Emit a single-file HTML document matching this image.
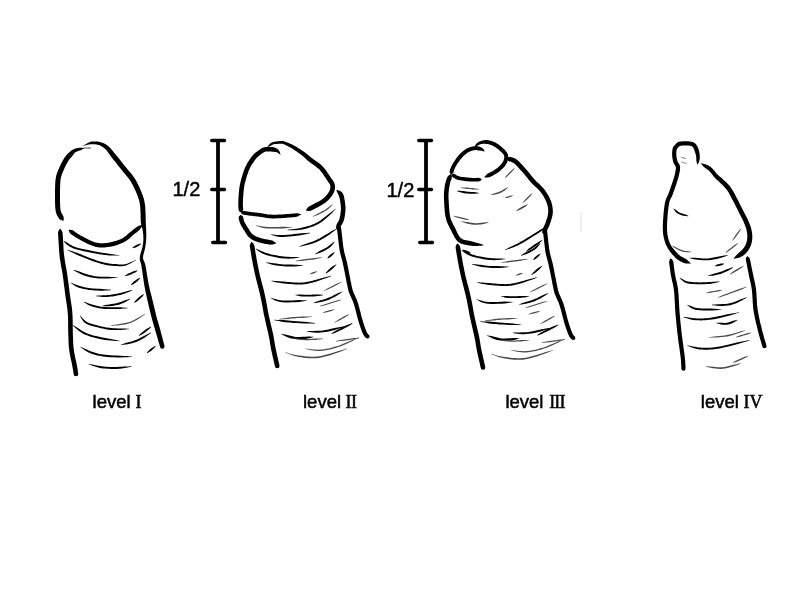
<!DOCTYPE html>
<html><head><meta charset="utf-8">
<style>
html,body{margin:0;padding:0;background:#fff;width:800px;height:600px;overflow:hidden}
svg{position:absolute;left:0;top:0;will-change:transform}
.t{font-family:"Liberation Sans",sans-serif;font-size:18.5px;fill:#000;stroke:#000;stroke-width:0.5}
.h{font-family:"Liberation Sans",sans-serif;font-size:20px;fill:#000;stroke:#000;stroke-width:0.45}
.r{font-family:"Liberation Serif",serif;font-size:18px;fill:#000;stroke:#000;stroke-width:0.5}
.b{fill:none;stroke:#000;stroke-width:3.8;stroke-linecap:butt}
.c{fill:none;stroke:#000;stroke-width:3.6;stroke-linecap:round}
</style></head><body>
<svg width="800" height="600" viewBox="0 0 800 600">

<path class="b" d="M218 140.5V242.5"/><path class="c" d="M211.8 140.5H224.4M211.8 189.5H224.4M212.8 242.5H225.4"/>
<path class="b" d="M426 140.5V242.5"/><path class="c" d="M418.8 140.5H431.4M418.8 189.5H431.4M419.8 242.5H432.4"/>
<rect x="580.3" y="212" width="1.5" height="20" fill="#ececec"/>
<text class="h" x="172.5" y="195.5">1/2</text>
<text class="h" x="386.5" y="196.5">1/2</text>
<text class="t" x="92.6" y="407.8">level</text><text class="r" x="135.6" y="407.8">I</text>
<text class="t" x="303" y="407.8">level</text><text class="r" x="345.6" y="407.8" letter-spacing="-0.5">II</text>
<text class="t" x="505.4" y="407.8">level</text><text class="r" x="549.2" y="407.8" letter-spacing="-0.9">III</text>
<text class="t" x="700.8" y="407.8">level</text><text class="r" x="743.5" y="407.8">IV</text>

<path fill="#999" d="M91.0 147.8 L90.3 147.1 L89.4 147.1 L88.2 147.2 L87.0 147.2 L85.7 147.2 L84.6 147.3 L83.6 147.3 L83.0 148.0 L83.0 148.4 L83.7 149.1 L84.6 149.1 L85.8 149.0 L87.0 149.0 L88.3 149.0 L89.4 148.9 L90.4 148.9 L91.0 148.2Z"/>
<path fill="#000" d="M84.0 148.0 L83.2 147.9 L82.1 147.8 L80.9 147.7 L79.5 147.7 L78.1 147.9 L76.7 148.2 L75.4 148.5 L74.3 148.9 L73.2 149.4 L72.3 149.9 L71.4 150.5 L70.7 151.1 L70.0 151.7 L69.4 152.3 L68.8 152.8 L68.2 153.3 L67.6 153.8 L67.1 154.4 L66.6 154.9 L66.1 155.5 L65.6 156.2 L65.0 156.9 L64.4 157.8 L63.9 158.7 L63.2 159.8 L62.6 160.9 L61.9 162.2 L61.2 163.6 L60.5 164.9 L59.9 166.3 L59.2 167.7 L58.7 169.0 L58.2 170.2 L57.7 171.3 L57.3 172.4 L56.9 173.6 L56.5 174.8 L56.1 176.3 L55.8 177.9 L55.5 179.7 L55.3 181.9 L55.2 184.4 L55.1 187.0 L55.0 189.8 L55.0 192.6 L55.0 195.3 L55.0 197.8 L55.0 200.0 L55.0 201.9 L55.1 203.7 L55.1 205.3 L55.2 206.9 L55.3 208.3 L55.5 209.8 L55.7 211.2 L56.1 212.7 L56.6 214.2 L57.3 215.7 L58.1 217.1 L58.9 218.4 L59.9 219.5 L61.1 220.1 L62.3 220.5 L63.2 220.8 L63.6 220.6 L63.7 219.6 L63.7 218.3 L63.6 217.0 L63.1 215.8 L62.4 214.6 L61.8 213.5 L61.3 212.4 L60.9 211.3 L60.6 210.2 L60.4 209.0 L60.3 207.8 L60.2 206.5 L60.1 205.1 L60.1 203.6 L60.0 201.9 L60.0 200.0 L60.0 197.8 L60.0 195.3 L60.0 192.7 L60.0 189.9 L60.1 187.2 L60.2 184.6 L60.3 182.3 L60.5 180.3 L60.7 178.7 L61.0 177.3 L61.3 176.2 L61.6 175.2 L61.9 174.2 L62.4 173.2 L62.8 172.1 L63.3 171.0 L63.8 169.7 L64.4 168.4 L65.0 167.1 L65.7 165.8 L66.3 164.5 L67.0 163.3 L67.6 162.3 L68.1 161.3 L68.6 160.5 L69.1 159.8 L69.5 159.3 L69.9 158.8 L70.3 158.3 L70.8 157.8 L71.3 157.3 L71.8 156.7 L72.3 156.0 L72.8 155.3 L73.3 154.7 L73.7 154.1 L74.1 153.5 L74.6 153.0 L75.1 152.5 L75.7 152.1 L76.6 151.7 L77.6 151.2 L78.8 150.8 L80.1 150.4 L81.3 149.9 L82.4 149.3 L83.4 148.8 L84.0 148.4Z"/>
<path fill="#000" d="M83.6 146.0 L84.1 145.8 L84.8 145.6 L85.6 145.3 L86.6 145.1 L87.5 144.8 L88.5 144.6 L89.4 144.4 L90.2 144.3 L91.0 144.3 L91.9 144.2 L92.7 144.2 L93.6 144.2 L94.4 144.2 L95.2 144.3 L96.0 144.4 L96.8 144.5 L97.5 144.7 L98.2 144.9 L98.9 145.1 L99.6 145.3 L100.2 145.6 L100.9 146.0 L101.5 146.3 L102.1 146.7 L102.7 147.0 L103.3 147.4 L103.8 147.8 L104.3 148.2 L104.8 148.6 L105.3 149.1 L105.9 149.7 L106.5 150.3 L107.0 150.9 L107.6 151.7 L108.1 152.4 L108.7 153.3 L109.4 154.2 L110.1 155.3 L110.9 156.4 L111.7 157.5 L112.7 158.8 L113.8 160.2 L115.0 161.6 L116.2 163.1 L117.4 164.7 L118.6 166.2 L119.9 167.8 L121.1 169.3 L122.3 170.7 L123.5 172.2 L124.7 173.7 L125.9 175.1 L127.1 176.5 L128.2 177.9 L129.3 179.3 L130.2 180.7 L131.1 182.1 L131.9 183.6 L132.8 185.1 L133.5 186.6 L134.2 188.1 L134.9 189.6 L135.6 191.1 L136.2 192.5 L136.8 193.8 L137.3 195.2 L137.8 196.4 L138.2 197.7 L138.6 198.9 L139.0 200.1 L139.3 201.3 L139.6 202.5 L139.8 203.7 L140.0 204.9 L140.1 206.0 L140.2 207.2 L140.3 208.4 L140.4 209.7 L140.4 210.9 L140.5 212.1 L140.6 213.4 L140.6 214.6 L140.6 215.9 L140.6 217.2 L140.7 218.4 L140.7 219.7 L140.7 221.0 L140.8 222.2 L141.0 223.4 L141.2 224.4 L141.5 225.5 L141.7 226.4 L142.0 227.3 L142.2 228.3 L142.5 229.2 L142.7 230.2 L142.8 231.2 L142.9 232.3 L143.1 233.4 L143.2 234.6 L143.3 235.7 L143.3 236.8 L143.4 237.9 L143.4 239.0 L143.4 240.0 L143.3 241.0 L143.2 241.9 L143.1 242.9 L143.0 243.9 L142.8 244.9 L142.6 245.9 L142.5 247.0 L142.2 248.2 L141.8 249.4 L141.4 250.8 L141.0 252.2 L140.5 253.6 L140.2 255.0 L139.9 256.4 L139.8 257.8 L139.8 259.0 L139.9 260.1 L140.1 261.1 L140.4 262.0 L140.7 262.8 L141.0 263.8 L141.3 264.9 L141.5 266.4 L141.8 268.3 L142.2 270.6 L142.5 273.1 L142.9 275.8 L143.3 278.6 L143.7 281.3 L144.1 283.9 L144.5 286.3 L144.9 288.5 L145.3 290.6 L145.7 292.6 L146.2 294.5 L146.6 296.4 L147.0 298.3 L147.4 300.2 L147.9 302.1 L148.3 304.0 L148.8 306.0 L149.2 308.0 L149.7 309.9 L150.2 311.9 L150.6 313.8 L151.1 315.7 L151.6 317.6 L152.1 319.5 L152.6 321.3 L153.1 323.0 L153.6 324.7 L154.1 326.4 L154.6 328.1 L155.1 329.9 L155.6 331.7 L156.2 333.6 L156.8 335.8 L157.5 338.0 L158.1 340.2 L158.7 342.3 L159.3 344.2 L159.8 345.8 L160.1 347.0 L164.5 345.8 L164.2 344.6 L163.7 343.0 L163.2 341.1 L162.7 338.9 L162.1 336.7 L161.5 334.5 L160.9 332.3 L160.4 330.3 L159.9 328.5 L159.4 326.7 L158.9 325.0 L158.4 323.3 L157.9 321.6 L157.4 319.9 L156.9 318.2 L156.4 316.4 L155.9 314.5 L155.5 312.6 L155.0 310.7 L154.6 308.8 L154.1 306.8 L153.6 304.9 L153.2 302.9 L152.7 300.9 L152.2 299.0 L151.8 297.1 L151.3 295.3 L150.8 293.4 L150.3 291.5 L149.8 289.6 L149.4 287.6 L148.9 285.5 L148.5 283.2 L148.0 280.6 L147.6 277.9 L147.1 275.2 L146.7 272.5 L146.3 269.9 L145.8 267.6 L145.5 265.6 L145.0 264.0 L144.6 262.6 L144.2 261.5 L143.8 260.7 L143.5 260.0 L143.3 259.4 L143.1 258.7 L143.0 257.8 L143.1 256.8 L143.2 255.6 L143.5 254.3 L143.9 253.0 L144.2 251.6 L144.6 250.2 L144.9 248.9 L145.1 247.6 L145.4 246.4 L145.5 245.3 L145.7 244.3 L145.8 243.2 L146.0 242.2 L146.1 241.2 L146.1 240.1 L146.2 239.0 L146.2 237.9 L146.3 236.8 L146.3 235.6 L146.3 234.4 L146.3 233.2 L146.2 232.1 L146.2 230.9 L146.1 229.8 L146.1 228.7 L146.1 227.7 L146.0 226.7 L145.9 225.7 L145.9 224.8 L145.8 223.8 L145.8 222.8 L145.8 221.8 L145.7 220.7 L145.7 219.6 L145.7 218.4 L145.6 217.1 L145.6 215.8 L145.6 214.5 L145.6 213.2 L145.5 211.9 L145.4 210.6 L145.4 209.4 L145.3 208.1 L145.2 206.8 L145.1 205.5 L144.9 204.2 L144.7 202.8 L144.4 201.5 L144.1 200.1 L143.8 198.8 L143.4 197.4 L142.9 196.1 L142.5 194.7 L142.0 193.4 L141.4 192.0 L140.8 190.5 L140.2 189.1 L139.5 187.5 L138.8 186.0 L138.0 184.4 L137.2 182.7 L136.3 181.1 L135.4 179.5 L134.4 177.9 L133.3 176.4 L132.2 174.8 L131.0 173.3 L129.8 171.9 L128.5 170.4 L127.3 169.0 L126.1 167.6 L124.9 166.1 L123.8 164.7 L122.5 163.1 L121.3 161.6 L120.1 160.0 L118.9 158.5 L117.7 157.1 L116.6 155.7 L115.7 154.5 L114.8 153.4 L113.9 152.4 L113.2 151.4 L112.4 150.5 L111.7 149.7 L111.0 148.8 L110.3 148.1 L109.5 147.3 L108.8 146.6 L108.1 146.0 L107.4 145.5 L106.7 145.0 L106.0 144.5 L105.3 144.1 L104.6 143.7 L103.9 143.3 L103.1 143.0 L102.3 142.7 L101.5 142.4 L100.7 142.2 L99.8 141.9 L99.0 141.8 L98.1 141.6 L97.2 141.5 L96.3 141.4 L95.4 141.4 L94.4 141.4 L93.5 141.4 L92.5 141.5 L91.6 141.6 L90.7 141.8 L89.8 142.1 L88.8 142.4 L87.9 142.9 L86.9 143.4 L86.1 143.9 L85.2 144.5 L84.5 145.0 L83.9 145.3 L83.4 145.6ZM160.05 346.40 a2.25 2.25 0 1 0 4.50 0 a2.25 2.25 0 1 0 -4.50 0Z"/>
<path fill="#000" d="M68.6 230.2 L69.1 231.3 L69.7 232.7 L70.8 234.0 L72.2 235.0 L73.8 236.1 L75.5 237.3 L77.3 238.3 L79.0 239.3 L80.7 240.3 L82.6 241.3 L84.5 242.3 L86.5 243.3 L88.5 244.2 L90.6 245.1 L92.5 245.8 L94.4 246.4 L96.2 246.9 L97.9 247.2 L99.6 247.4 L101.2 247.5 L102.8 247.5 L104.4 247.4 L106.1 247.3 L107.8 247.1 L109.7 246.8 L111.6 246.4 L113.7 245.9 L115.7 245.4 L117.7 244.7 L119.7 244.0 L121.6 243.3 L123.4 242.5 L125.1 241.6 L126.7 240.6 L128.1 239.5 L129.4 238.4 L130.7 237.3 L131.9 236.2 L133.1 235.1 L134.3 234.1 L135.6 233.1 L137.1 231.9 L138.5 230.8 L139.8 229.4 L140.9 228.0 L141.8 226.7 L142.6 225.5 L143.1 224.7 L142.9 224.3 L141.9 224.7 L140.6 225.2 L139.1 225.8 L137.5 226.6 L135.9 227.5 L134.5 228.7 L133.0 229.8 L131.7 230.9 L130.4 231.9 L129.1 233.0 L127.9 234.1 L126.7 235.2 L125.5 236.2 L124.2 237.1 L123.0 238.0 L121.6 238.7 L120.0 239.4 L118.3 240.1 L116.4 240.7 L114.5 241.3 L112.6 241.8 L110.7 242.3 L108.9 242.6 L107.2 242.9 L105.6 243.1 L104.1 243.3 L102.7 243.3 L101.3 243.3 L100.0 243.2 L98.6 243.0 L97.1 242.8 L95.6 242.4 L93.9 241.9 L92.1 241.2 L90.3 240.4 L88.3 239.5 L86.4 238.5 L84.5 237.6 L82.7 236.6 L81.0 235.7 L79.4 234.7 L77.8 233.7 L76.2 232.7 L74.6 231.6 L73.2 230.6 L71.7 230.0 L70.1 229.8 L68.9 229.8Z"/>
<path fill="#000" d="M59.8 228.8 L59.4 229.4 L58.9 230.2 L58.5 231.1 L58.1 232.1 L58.0 233.3 L58.1 234.6 L58.2 236.0 L58.3 237.7 L58.4 239.5 L58.5 241.6 L58.7 243.8 L58.8 246.2 L59.0 248.8 L59.1 251.3 L59.4 253.8 L59.6 256.3 L59.9 258.7 L60.3 261.1 L60.7 263.5 L61.1 265.9 L61.5 268.3 L62.0 270.6 L62.4 273.0 L62.7 275.3 L63.1 277.7 L63.4 280.1 L63.7 282.4 L64.0 284.8 L64.3 287.2 L64.6 289.6 L64.9 291.9 L65.2 294.3 L65.5 296.6 L65.9 298.9 L66.2 301.2 L66.6 303.4 L66.9 305.6 L67.2 307.9 L67.5 310.2 L67.7 312.7 L67.9 315.3 L68.0 318.1 L68.1 321.0 L68.1 324.0 L68.1 327.0 L68.2 329.8 L68.2 332.6 L68.3 335.1 L68.4 337.3 L68.5 339.4 L68.5 341.3 L68.6 343.1 L68.7 344.9 L68.8 346.6 L69.0 348.4 L69.2 350.3 L69.5 352.3 L69.9 354.3 L70.3 356.4 L70.7 358.4 L71.1 360.3 L71.6 362.2 L71.9 363.9 L72.2 365.4 L72.5 366.9 L72.7 368.3 L73.0 369.6 L73.2 370.8 L73.3 371.9 L73.5 372.9 L73.6 373.7 L73.7 374.4 L78.3 373.6 L78.2 373.0 L78.0 372.2 L77.9 371.2 L77.7 370.1 L77.5 368.8 L77.3 367.5 L77.0 366.1 L76.8 364.6 L76.4 362.9 L76.1 361.2 L75.6 359.3 L75.2 357.4 L74.8 355.4 L74.4 353.5 L74.1 351.5 L73.8 349.7 L73.6 347.9 L73.4 346.2 L73.3 344.6 L73.2 342.9 L73.1 341.1 L73.1 339.2 L73.0 337.2 L72.9 334.9 L72.8 332.5 L72.8 329.8 L72.7 326.9 L72.7 323.9 L72.7 320.9 L72.6 317.9 L72.5 315.1 L72.3 312.3 L72.1 309.8 L71.8 307.3 L71.5 305.0 L71.1 302.7 L70.8 300.4 L70.4 298.2 L70.1 296.0 L69.8 293.7 L69.5 291.4 L69.2 289.0 L68.9 286.6 L68.6 284.2 L68.3 281.9 L67.9 279.5 L67.6 277.1 L67.3 274.7 L66.9 272.3 L66.5 269.8 L66.1 267.4 L65.6 265.1 L65.2 262.7 L64.8 260.4 L64.5 258.0 L64.2 255.7 L63.9 253.4 L63.7 250.9 L63.5 248.4 L63.4 246.0 L63.3 243.6 L63.1 241.3 L63.0 239.2 L62.9 237.3 L62.8 235.7 L62.7 234.3 L62.6 233.0 L62.3 231.8 L61.8 230.8 L61.3 230.0 L60.7 229.3 L60.2 228.7ZM73.70 374.00 a2.30 2.30 0 1 0 4.60 0 a2.30 2.30 0 1 0 -4.60 0Z"/>
<path fill="#000" d="M63.6 241.2 L64.2 241.8 L65.0 242.7 L65.9 243.7 L67.0 244.7 L68.4 245.7 L69.9 246.7 L71.6 247.6 L73.4 248.4 L75.4 249.1 L77.7 249.7 L80.1 250.3 L82.6 250.9 L85.2 251.5 L87.7 252.0 L90.1 252.5 L92.3 252.9 L94.4 253.3 L96.4 253.7 L98.4 254.1 L100.3 254.4 L102.1 254.6 L103.9 254.9 L105.7 255.1 L107.4 255.3 L109.1 255.4 L110.9 255.5 L112.7 255.5 L114.3 255.6 L115.9 255.6 L117.3 255.6 L118.5 255.6 L119.4 255.6 L119.4 255.2 L118.5 255.1 L117.4 254.9 L116.0 254.7 L114.4 254.5 L112.8 254.3 L111.0 254.1 L109.3 253.8 L107.6 253.5 L105.9 253.3 L104.2 253.0 L102.4 252.8 L100.6 252.5 L98.7 252.2 L96.8 251.8 L94.8 251.5 L92.7 251.1 L90.5 250.6 L88.1 250.1 L85.6 249.6 L83.0 249.1 L80.5 248.5 L78.2 247.9 L76.0 247.3 L74.1 246.6 L72.4 245.9 L70.9 245.0 L69.4 244.1 L68.1 243.2 L66.9 242.4 L65.7 241.8 L64.7 241.2 L63.9 240.8Z"/>
<path fill="#000" d="M132.6 248.2 L133.4 248.0 L134.6 247.8 L135.9 247.4 L137.2 246.7 L138.5 246.1 L139.6 245.3 L140.5 244.5 L141.1 243.9 L140.9 243.6 L140.1 243.7 L138.9 244.0 L137.6 244.4 L136.3 245.0 L135.0 245.7 L133.9 246.5 L133.0 247.2 L132.4 247.8Z"/>
<path fill="#000" d="M67.4 250.2 L68.4 250.6 L69.6 251.3 L71.1 252.0 L72.7 252.8 L74.5 253.6 L76.3 254.4 L78.0 255.2 L79.6 255.9 L81.2 256.5 L82.8 257.2 L84.3 257.8 L85.9 258.5 L87.5 259.1 L89.0 259.7 L90.6 260.3 L92.2 260.9 L93.8 261.4 L95.4 262.0 L97.0 262.5 L98.6 263.0 L100.2 263.5 L101.8 263.9 L103.3 264.3 L104.8 264.7 L106.2 265.0 L107.5 265.2 L108.8 265.4 L110.0 265.6 L111.3 265.7 L112.5 265.8 L113.7 265.9 L114.9 265.9 L116.2 266.0 L117.4 266.1 L118.6 266.2 L119.9 266.3 L121.2 266.3 L122.5 266.2 L123.8 266.1 L125.2 265.8 L126.6 265.3 L128.2 264.6 L129.8 263.8 L131.3 262.9 L132.8 262.1 L134.1 261.3 L135.3 260.6 L136.1 260.2 L135.9 259.8 L135.0 260.2 L133.9 260.7 L132.5 261.4 L130.9 262.1 L129.3 262.7 L127.7 263.4 L126.2 263.9 L124.8 264.2 L123.6 264.4 L122.4 264.5 L121.2 264.5 L120.0 264.5 L118.8 264.4 L117.6 264.3 L116.3 264.1 L115.1 264.1 L113.8 264.0 L112.6 263.9 L111.4 263.8 L110.3 263.7 L109.1 263.5 L107.8 263.3 L106.6 263.1 L105.2 262.8 L103.8 262.5 L102.3 262.1 L100.8 261.7 L99.2 261.2 L97.6 260.7 L96.0 260.2 L94.4 259.6 L92.8 259.1 L91.3 258.5 L89.7 258.0 L88.2 257.3 L86.6 256.7 L85.1 256.1 L83.5 255.4 L81.9 254.8 L80.4 254.1 L78.7 253.5 L76.9 252.8 L75.0 252.2 L73.2 251.6 L71.5 251.0 L69.9 250.5 L68.6 250.1 L67.6 249.8Z"/>
<path fill="#000" d="M73.7 270.2 L74.6 270.7 L75.7 271.4 L77.1 272.2 L78.7 273.1 L80.5 273.9 L82.3 274.7 L84.0 275.4 L85.7 275.9 L87.3 276.4 L88.8 276.8 L90.3 277.2 L91.8 277.5 L93.3 277.8 L95.0 278.1 L96.8 278.3 L98.7 278.4 L100.9 278.6 L103.4 278.6 L106.2 278.6 L108.9 278.5 L111.6 278.3 L114.0 278.1 L116.0 277.8 L117.5 277.7 L117.5 277.3 L116.0 277.2 L114.0 277.1 L111.6 276.9 L108.9 276.8 L106.2 276.8 L103.5 276.7 L101.0 276.7 L98.8 276.6 L97.0 276.4 L95.3 276.2 L93.7 275.9 L92.2 275.6 L90.7 275.3 L89.3 274.9 L87.8 274.5 L86.3 274.1 L84.7 273.6 L83.0 272.9 L81.2 272.2 L79.4 271.6 L77.7 271.0 L76.1 270.5 L74.8 270.1 L73.8 269.8Z"/>
<path fill="#000" d="M125.1 276.2 L126.2 276.0 L127.8 275.6 L129.7 275.0 L131.6 274.2 L133.5 273.3 L135.3 272.4 L136.6 271.5 L137.6 270.8 L137.4 270.4 L136.3 270.6 L134.7 271.0 L132.8 271.6 L130.9 272.4 L129.0 273.3 L127.2 274.2 L125.9 275.1 L124.9 275.8Z"/>
<path fill="#000" d="M70.9 283.2 L71.5 283.6 L72.3 284.1 L73.3 284.8 L74.4 285.5 L75.6 286.2 L76.9 286.9 L78.3 287.4 L79.7 287.9 L81.1 288.3 L82.5 288.7 L84.0 289.0 L85.5 289.3 L87.1 289.6 L88.7 289.9 L90.5 290.1 L92.4 290.3 L94.6 290.5 L97.1 290.6 L99.8 290.7 L102.5 290.7 L105.1 290.6 L107.5 290.5 L109.5 290.3 L111.0 290.2 L111.0 289.8 L109.5 289.6 L107.5 289.4 L105.2 289.2 L102.5 289.0 L99.8 288.8 L97.2 288.7 L94.7 288.6 L92.6 288.5 L90.7 288.3 L89.0 288.0 L87.4 287.8 L85.8 287.5 L84.4 287.2 L83.0 286.8 L81.6 286.5 L80.3 286.1 L79.0 285.7 L77.6 285.2 L76.3 284.7 L75.0 284.2 L73.8 283.7 L72.7 283.4 L71.8 283.0 L71.1 282.8Z"/>
<path fill="#000" d="M131.1 285.2 L132.0 284.8 L133.3 284.2 L134.7 283.3 L136.1 282.2 L137.5 281.2 L138.6 280.0 L139.5 278.9 L140.1 278.2 L139.9 277.8 L139.0 278.2 L137.7 278.8 L136.3 279.7 L134.9 280.8 L133.5 281.8 L132.4 283.0 L131.5 284.1 L130.9 284.8Z"/>
<path fill="#000" d="M96.0 296.2 L96.9 296.3 L98.0 296.5 L99.4 296.6 L101.0 296.8 L102.6 296.9 L104.3 297.0 L106.0 297.0 L107.6 296.9 L109.1 296.8 L110.7 296.6 L112.2 296.4 L113.8 296.2 L115.4 295.9 L117.0 295.6 L118.6 295.3 L120.2 294.9 L121.9 294.5 L123.7 293.9 L125.5 293.3 L127.3 292.6 L128.9 291.9 L130.4 291.2 L131.6 290.6 L132.6 290.2 L132.4 289.8 L131.4 290.0 L130.1 290.3 L128.5 290.7 L126.8 291.2 L125.0 291.7 L123.1 292.2 L121.4 292.7 L119.8 293.1 L118.2 293.4 L116.7 293.8 L115.1 294.0 L113.5 294.3 L112.0 294.5 L110.4 294.7 L108.9 294.9 L107.4 295.1 L105.9 295.2 L104.3 295.3 L102.6 295.3 L101.0 295.4 L99.4 295.5 L98.1 295.6 L96.9 295.7 L96.0 295.8Z"/>
<path fill="#000" d="M83.7 302.2 L84.3 302.6 L85.1 303.0 L86.0 303.6 L87.1 304.3 L88.2 304.9 L89.5 305.5 L90.9 306.1 L92.2 306.5 L93.6 306.9 L94.9 307.3 L96.2 307.6 L97.7 308.0 L99.2 308.3 L101.0 308.5 L102.8 308.8 L104.9 308.9 L107.5 309.1 L110.4 309.1 L113.7 309.1 L117.0 309.1 L120.3 308.9 L123.2 308.6 L125.7 308.4 L127.5 308.2 L127.5 307.8 L125.7 307.7 L123.2 307.5 L120.3 307.3 L117.0 307.2 L113.7 307.2 L110.5 307.2 L107.5 307.2 L105.1 307.1 L103.0 306.9 L101.2 306.7 L99.6 306.4 L98.1 306.1 L96.7 305.8 L95.4 305.4 L94.1 305.1 L92.8 304.7 L91.5 304.3 L90.2 303.9 L88.9 303.4 L87.6 303.0 L86.5 302.6 L85.4 302.3 L84.5 302.0 L83.8 301.8Z"/>
<path fill="#000" d="M102.5 306.2 L103.7 306.2 L105.3 306.3 L107.2 306.3 L109.3 306.2 L111.5 306.0 L113.7 305.7 L115.8 305.3 L117.7 304.9 L119.6 304.4 L121.4 303.7 L123.3 303.0 L125.0 302.2 L126.6 301.3 L128.0 300.4 L129.2 299.7 L130.1 299.2 L129.9 298.8 L128.9 299.1 L127.6 299.5 L126.0 300.0 L124.3 300.6 L122.6 301.3 L120.8 302.0 L119.0 302.6 L117.3 303.1 L115.5 303.5 L113.4 303.8 L111.3 304.1 L109.1 304.4 L107.1 304.8 L105.2 305.1 L103.6 305.5 L102.5 305.8Z"/>
<path fill="#000" d="M134.1 303.1 L135.1 302.6 L136.5 301.7 L138.1 300.6 L139.6 299.2 L141.2 297.8 L142.5 296.4 L143.5 295.1 L144.1 294.1 L143.9 293.9 L142.9 294.4 L141.5 295.3 L139.9 296.4 L138.4 297.8 L136.8 299.2 L135.5 300.6 L134.5 301.9 L133.9 302.9Z"/>
<path fill="#000" d="M79.8 315.7 L80.2 316.3 L80.7 317.1 L81.2 318.1 L81.9 319.2 L82.6 320.3 L83.5 321.4 L84.4 322.4 L85.5 323.3 L86.6 323.9 L87.7 324.5 L88.9 325.0 L90.1 325.4 L91.4 325.8 L92.8 326.2 L94.2 326.5 L95.8 326.9 L97.4 327.3 L99.1 327.8 L100.9 328.2 L102.8 328.6 L104.8 329.0 L106.8 329.4 L108.8 329.7 L110.9 329.9 L113.2 330.1 L115.7 330.1 L118.3 330.1 L121.0 329.9 L123.5 329.7 L125.7 329.5 L127.6 329.3 L129.0 329.2 L129.0 328.8 L127.6 328.7 L125.7 328.6 L123.4 328.5 L120.9 328.5 L118.3 328.4 L115.7 328.3 L113.3 328.2 L111.1 328.1 L109.1 327.8 L107.1 327.5 L105.1 327.2 L103.2 326.8 L101.3 326.4 L99.6 325.9 L97.9 325.5 L96.2 325.1 L94.7 324.7 L93.3 324.3 L92.0 324.0 L90.7 323.6 L89.6 323.2 L88.5 322.8 L87.5 322.3 L86.5 321.7 L85.6 321.1 L84.7 320.3 L83.8 319.4 L82.9 318.5 L82.0 317.5 L81.3 316.7 L80.7 316.0 L80.2 315.5Z"/>
<path fill="#4a4a4a" d="M111.0 325.8 L112.5 325.7 L114.6 325.6 L117.0 325.4 L119.6 325.2 L122.4 324.8 L125.2 324.4 L127.8 323.8 L130.2 323.1 L132.4 322.2 L134.7 321.1 L136.9 319.9 L139.0 318.6 L140.9 317.2 L142.6 316.0 L144.0 314.9 L145.1 314.2 L144.9 313.8 L143.7 314.5 L142.2 315.3 L140.4 316.4 L138.4 317.6 L136.3 318.8 L134.1 320.0 L131.9 321.0 L129.8 321.9 L127.5 322.5 L125.0 323.1 L122.2 323.6 L119.5 324.0 L116.8 324.4 L114.5 324.8 L112.5 325.1 L111.0 325.4Z"/>
<path fill="#000" d="M72.4 325.2 L73.2 326.0 L74.4 327.0 L75.7 328.3 L77.3 329.6 L79.0 331.0 L80.9 332.3 L82.8 333.4 L84.6 334.4 L86.4 335.1 L88.1 335.8 L90.0 336.5 L91.8 337.0 L93.7 337.5 L95.7 338.0 L97.7 338.5 L99.8 338.9 L102.2 339.4 L104.9 339.9 L107.7 340.3 L110.6 340.6 L113.3 340.8 L115.8 341.0 L117.9 341.1 L119.5 341.2 L119.5 340.8 L118.0 340.5 L116.0 340.0 L113.5 339.5 L110.8 339.0 L108.0 338.5 L105.2 338.0 L102.5 337.5 L100.2 337.1 L98.1 336.6 L96.1 336.1 L94.2 335.7 L92.3 335.2 L90.5 334.6 L88.8 334.0 L87.1 333.4 L85.4 332.6 L83.7 331.7 L81.9 330.7 L80.1 329.5 L78.3 328.3 L76.6 327.2 L75.0 326.2 L73.6 325.4 L72.6 324.8Z"/>
<path fill="#000" d="M139.1 335.9 L140.3 335.3 L141.9 334.5 L143.7 333.4 L145.6 332.0 L147.4 330.6 L149.0 329.2 L150.3 327.9 L151.1 326.9 L150.9 326.6 L149.7 327.2 L148.1 328.0 L146.3 329.1 L144.4 330.5 L142.6 331.9 L141.0 333.3 L139.7 334.6 L138.9 335.6Z"/>
<path fill="#000" d="M121.0 344.9 L122.2 344.8 L123.8 344.7 L125.7 344.5 L127.7 344.2 L129.9 343.8 L132.2 343.3 L134.3 342.6 L136.4 341.9 L138.4 341.0 L140.5 339.9 L142.7 338.7 L144.9 337.4 L146.9 336.1 L148.6 334.8 L150.0 333.7 L151.1 332.9 L150.9 332.6 L149.7 333.1 L148.0 333.9 L146.1 334.8 L144.0 335.9 L141.8 337.0 L139.7 338.2 L137.6 339.3 L135.6 340.1 L133.7 340.8 L131.6 341.4 L129.5 342.0 L127.4 342.6 L125.4 343.1 L123.6 343.7 L122.1 344.2 L121.0 344.6Z"/>
<path fill="#000" d="M80.4 347.2 L81.3 347.8 L82.4 348.5 L83.7 349.5 L85.2 350.5 L86.9 351.5 L88.6 352.4 L90.4 353.2 L92.2 353.9 L93.9 354.4 L95.6 354.9 L97.3 355.4 L99.0 355.8 L100.9 356.1 L102.9 356.4 L105.0 356.7 L107.4 356.9 L110.2 357.2 L113.5 357.3 L117.0 357.4 L120.7 357.4 L124.2 357.3 L127.4 357.2 L130.0 357.1 L132.0 356.9 L132.0 356.6 L130.1 356.4 L127.4 356.1 L124.2 355.9 L120.7 355.7 L117.1 355.5 L113.6 355.4 L110.3 355.3 L107.6 355.1 L105.3 354.8 L103.1 354.5 L101.2 354.2 L99.4 353.9 L97.7 353.5 L96.1 353.1 L94.4 352.6 L92.8 352.1 L91.1 351.5 L89.4 350.7 L87.7 349.9 L85.9 349.1 L84.3 348.4 L82.8 347.7 L81.6 347.2 L80.6 346.8Z"/>
<path fill="#000" d="M147.1 353.2 L148.0 352.8 L149.2 352.1 L150.5 351.3 L151.9 350.2 L153.2 349.1 L154.2 348.0 L155.1 346.9 L155.6 346.2 L155.4 345.8 L154.5 346.2 L153.3 346.9 L152.0 347.7 L150.6 348.8 L149.3 349.9 L148.3 351.0 L147.4 352.1 L146.9 352.8Z"/>
<path fill="#000" d="M88.7 364.2 L89.5 364.5 L90.6 365.0 L91.8 365.5 L93.3 366.0 L94.8 366.6 L96.5 367.1 L98.2 367.6 L99.9 367.9 L101.6 368.2 L103.3 368.4 L105.2 368.6 L107.1 368.7 L109.1 368.8 L111.0 368.9 L113.0 369.0 L115.0 368.9 L117.2 368.9 L119.5 368.7 L121.9 368.4 L124.3 368.1 L126.5 367.7 L128.6 367.3 L130.3 366.9 L131.5 366.7 L131.5 366.3 L130.2 366.3 L128.4 366.4 L126.4 366.4 L124.1 366.5 L121.7 366.7 L119.3 366.8 L117.1 367.0 L115.0 367.1 L113.0 367.1 L111.1 367.0 L109.1 366.9 L107.2 366.8 L105.4 366.7 L103.6 366.5 L101.8 366.3 L100.1 366.1 L98.5 365.8 L96.9 365.5 L95.2 365.2 L93.6 364.8 L92.1 364.5 L90.8 364.2 L89.7 364.0 L88.8 363.8Z"/>
<path fill="#000" d="M267.9 147.0 L268.4 146.8 L269.0 146.6 L269.7 146.3 L270.4 146.0 L271.2 145.6 L271.8 145.2 L272.4 144.8 L273.0 144.6 L273.5 144.4 L274.0 144.2 L274.6 144.1 L275.1 144.0 L275.7 144.0 L276.3 143.9 L277.0 143.9 L277.6 143.9 L278.3 143.8 L279.0 143.8 L279.6 143.7 L280.3 143.7 L281.0 143.7 L281.6 143.7 L282.2 143.8 L282.8 143.9 L283.3 144.0 L283.8 144.2 L284.3 144.4 L284.8 144.6 L285.4 144.9 L285.9 145.2 L286.6 145.6 L287.3 146.0 L288.1 146.3 L288.8 146.8 L289.6 147.2 L290.5 147.6 L291.3 148.1 L292.2 148.6 L293.1 149.2 L294.0 149.8 L295.0 150.4 L296.1 151.1 L297.2 151.9 L298.3 152.7 L299.4 153.5 L300.5 154.3 L301.6 155.1 L302.5 155.8 L303.3 156.5 L304.0 157.1 L304.6 157.7 L305.3 158.3 L305.9 159.0 L306.7 159.7 L307.6 160.4 L308.6 161.3 L309.8 162.2 L311.2 163.2 L312.6 164.2 L314.0 165.3 L315.5 166.3 L316.9 167.4 L318.2 168.5 L319.4 169.6 L320.4 170.8 L321.5 172.1 L322.6 173.5 L323.6 175.0 L324.5 176.4 L325.5 177.8 L326.3 179.1 L327.1 180.3 L327.8 181.3 L328.4 182.2 L329.0 182.9 L329.4 183.5 L329.7 184.0 L329.9 184.5 L330.1 184.9 L330.2 185.5 L330.3 186.1 L330.4 186.7 L330.4 187.4 L330.3 188.1 L330.2 188.8 L330.0 189.5 L329.8 190.2 L329.4 191.0 L329.0 191.8 L328.4 192.7 L327.8 193.7 L327.0 194.6 L326.2 195.6 L325.3 196.5 L324.4 197.4 L323.5 198.2 L322.5 199.0 L321.5 199.8 L320.3 200.5 L319.0 201.2 L317.7 201.9 L316.4 202.6 L315.1 203.3 L313.9 204.0 L312.7 204.6 L311.4 205.3 L310.1 205.9 L308.9 206.6 L307.8 207.5 L307.0 208.5 L306.4 209.5 L305.9 210.3 L306.1 210.7 L307.0 210.8 L308.2 210.9 L309.5 210.9 L310.9 210.7 L312.2 210.1 L313.5 209.4 L314.8 208.7 L316.1 208.0 L317.3 207.4 L318.6 206.7 L319.9 206.0 L321.3 205.2 L322.6 204.4 L324.0 203.6 L325.3 202.7 L326.5 201.8 L327.6 200.8 L328.7 199.7 L329.7 198.6 L330.6 197.5 L331.5 196.4 L332.3 195.2 L333.0 194.1 L333.6 193.0 L334.1 191.9 L334.4 190.8 L334.7 189.7 L334.9 188.7 L335.0 187.6 L335.0 186.6 L334.9 185.6 L334.8 184.5 L334.5 183.6 L334.1 182.6 L333.7 181.8 L333.2 181.0 L332.7 180.2 L332.2 179.5 L331.6 178.7 L330.9 177.7 L330.2 176.6 L329.3 175.3 L328.4 173.9 L327.4 172.4 L326.3 170.8 L325.1 169.3 L323.9 167.8 L322.6 166.4 L321.3 165.1 L319.8 163.8 L318.3 162.7 L316.7 161.5 L315.2 160.5 L313.8 159.5 L312.5 158.5 L311.4 157.7 L310.5 156.9 L309.6 156.3 L308.9 155.7 L308.2 155.1 L307.5 154.5 L306.7 153.9 L305.9 153.2 L305.0 152.6 L304.0 151.8 L302.9 151.1 L301.7 150.3 L300.5 149.5 L299.3 148.7 L298.2 148.0 L297.0 147.3 L296.0 146.6 L294.9 146.1 L294.0 145.5 L293.0 145.0 L292.1 144.6 L291.2 144.1 L290.3 143.8 L289.5 143.4 L288.7 143.0 L288.0 142.7 L287.3 142.4 L286.6 142.2 L286.0 141.9 L285.4 141.7 L284.7 141.4 L284.0 141.3 L283.2 141.1 L282.5 141.0 L281.7 141.0 L280.9 141.0 L280.2 141.0 L279.5 141.1 L278.7 141.2 L278.0 141.3 L277.4 141.3 L276.7 141.4 L276.1 141.5 L275.4 141.6 L274.8 141.7 L274.1 141.8 L273.4 141.9 L272.7 142.2 L272.0 142.4 L271.3 142.8 L270.6 143.3 L269.9 143.8 L269.2 144.4 L268.7 145.1 L268.3 145.7 L267.9 146.2 L267.7 146.6Z"/>
<path fill="#000" d="M280.5 154.5 L280.4 154.1 L280.2 153.7 L280.1 153.1 L279.9 152.4 L279.6 151.8 L279.3 151.1 L278.9 150.4 L278.4 149.8 L277.8 149.3 L277.2 148.8 L276.6 148.4 L275.9 148.1 L275.2 147.8 L274.4 147.5 L273.6 147.3 L272.8 147.1 L271.9 147.0 L270.9 146.9 L269.9 146.9 L268.8 146.8 L267.7 146.8 L266.6 146.9 L265.5 147.0 L264.5 147.2 L263.6 147.4 L262.7 147.7 L261.9 148.1 L261.2 148.5 L260.5 149.0 L259.9 149.4 L259.3 149.9 L258.6 150.3 L258.0 150.8 L257.2 151.4 L256.4 152.0 L255.6 152.6 L254.8 153.3 L253.9 154.1 L253.1 155.0 L252.2 156.0 L251.4 157.1 L250.5 158.3 L249.6 159.5 L248.7 160.9 L247.8 162.3 L246.9 163.8 L246.1 165.4 L245.3 167.1 L244.6 168.8 L243.8 170.7 L243.1 172.7 L242.5 174.7 L241.9 176.8 L241.3 178.7 L240.8 180.7 L240.4 182.5 L240.0 184.2 L239.7 185.9 L239.4 187.5 L239.2 189.0 L239.1 190.6 L238.9 192.0 L238.8 193.4 L238.7 194.8 L238.6 196.2 L238.5 197.6 L238.4 198.9 L238.4 200.2 L238.3 201.5 L238.3 202.7 L238.3 203.9 L238.3 205.0 L238.3 206.2 L238.4 207.4 L238.5 208.5 L238.6 209.6 L238.8 210.6 L239.4 211.4 L240.3 212.0 L241.0 212.5 L241.4 212.5 L242.0 211.8 L242.7 211.0 L243.2 210.1 L243.2 209.2 L243.1 208.1 L243.0 207.1 L242.9 206.0 L242.9 205.0 L242.9 203.9 L242.9 202.8 L242.9 201.6 L243.0 200.4 L243.0 199.1 L243.1 197.8 L243.2 196.5 L243.3 195.2 L243.4 193.8 L243.5 192.4 L243.7 191.0 L243.8 189.6 L244.0 188.1 L244.2 186.6 L244.5 185.1 L244.8 183.5 L245.3 181.8 L245.8 180.0 L246.3 178.0 L246.9 176.1 L247.5 174.2 L248.2 172.3 L248.8 170.5 L249.5 168.9 L250.2 167.5 L250.9 166.1 L251.7 164.7 L252.6 163.4 L253.4 162.2 L254.2 161.0 L255.0 159.9 L255.8 159.0 L256.5 158.1 L257.2 157.4 L257.9 156.7 L258.6 156.1 L259.3 155.6 L259.9 155.1 L260.7 154.6 L261.4 154.1 L262.0 153.6 L262.6 153.1 L263.1 152.7 L263.6 152.4 L264.1 152.2 L264.5 152.0 L265.0 151.8 L265.5 151.6 L266.1 151.5 L266.9 151.5 L267.8 151.4 L268.7 151.4 L269.6 151.5 L270.6 151.5 L271.4 151.6 L272.2 151.7 L272.9 151.7 L273.5 151.8 L274.1 151.8 L274.7 151.9 L275.2 152.0 L275.7 152.0 L276.2 152.1 L276.6 152.2 L277.1 152.4 L277.5 152.6 L278.0 153.0 L278.5 153.4 L279.0 153.8 L279.5 154.1 L279.8 154.5 L280.1 154.7Z"/>
<path fill="#000" d="M241.0 212.7 L241.7 213.9 L242.7 214.6 L244.1 214.8 L245.6 215.0 L247.2 215.2 L248.8 215.4 L250.4 215.7 L251.8 215.8 L253.1 216.0 L254.5 216.2 L255.8 216.3 L257.1 216.5 L258.4 216.6 L259.6 216.8 L260.7 216.9 L261.7 217.0 L262.6 217.2 L263.3 217.3 L264.0 217.5 L264.6 217.6 L265.3 217.8 L266.1 217.9 L266.9 218.0 L267.8 218.1 L268.8 218.2 L269.8 218.3 L270.8 218.3 L271.9 218.4 L273.0 218.4 L274.3 218.4 L275.6 218.4 L277.1 218.3 L278.7 218.3 L280.6 218.2 L282.6 218.1 L284.6 217.9 L286.7 217.8 L288.7 217.6 L290.5 217.5 L292.2 217.3 L293.7 217.2 L295.1 217.0 L296.4 216.8 L297.7 216.4 L298.7 215.8 L299.6 215.3 L300.4 214.9 L301.0 214.5 L301.0 214.1 L300.3 213.9 L299.4 213.7 L298.4 213.5 L297.2 213.3 L296.0 213.3 L294.7 213.4 L293.3 213.5 L291.8 213.7 L290.2 213.8 L288.4 213.9 L286.4 214.1 L284.4 214.2 L282.3 214.4 L280.4 214.5 L278.5 214.6 L276.9 214.7 L275.5 214.7 L274.2 214.7 L273.1 214.7 L272.0 214.7 L271.0 214.6 L270.0 214.6 L269.1 214.5 L268.2 214.5 L267.4 214.4 L266.7 214.3 L266.1 214.1 L265.5 214.0 L264.8 213.9 L264.1 213.7 L263.2 213.5 L262.3 213.4 L261.2 213.2 L260.0 213.1 L258.8 212.9 L257.5 212.8 L256.2 212.6 L254.9 212.5 L253.5 212.3 L252.2 212.2 L250.8 212.0 L249.3 211.8 L247.7 211.6 L246.1 211.3 L244.6 211.1 L243.3 210.9 L242.0 211.3 L241.0 212.3Z"/>
<path fill="#000" d="M240.3 215.0 L239.7 215.7 L239.0 216.5 L238.6 217.5 L238.7 218.5 L238.9 219.5 L239.2 220.6 L239.5 221.8 L239.9 222.8 L240.3 223.8 L240.8 224.8 L241.3 225.7 L241.8 226.7 L242.4 227.6 L242.9 228.5 L243.5 229.4 L244.1 230.2 L244.6 231.1 L245.1 232.0 L245.7 233.0 L246.3 233.9 L247.0 234.9 L247.7 235.9 L248.6 236.9 L249.5 237.8 L250.5 238.5 L251.6 239.2 L252.7 239.9 L253.8 240.4 L255.0 240.9 L256.1 241.4 L257.2 241.8 L258.2 242.2 L259.3 242.5 L260.4 242.8 L261.4 243.1 L262.5 243.3 L263.5 243.5 L264.5 243.7 L265.5 243.9 L266.6 244.1 L267.7 244.3 L269.0 244.5 L270.4 244.7 L271.7 244.6 L273.0 244.4 L274.2 244.0 L275.2 243.7 L276.0 243.4 L276.0 243.0 L275.4 242.5 L274.5 241.9 L273.5 241.2 L272.3 240.6 L271.0 240.2 L269.8 239.9 L268.5 239.7 L267.4 239.5 L266.4 239.3 L265.3 239.2 L264.3 239.0 L263.4 238.8 L262.5 238.6 L261.6 238.4 L260.7 238.1 L259.8 237.8 L258.8 237.5 L257.8 237.1 L256.8 236.7 L255.8 236.2 L254.8 235.8 L254.0 235.3 L253.2 234.8 L252.5 234.2 L251.9 233.7 L251.3 233.0 L250.7 232.3 L250.2 231.4 L249.6 230.6 L249.1 229.6 L248.5 228.7 L247.9 227.8 L247.4 226.9 L246.8 226.0 L246.3 225.2 L245.8 224.3 L245.3 223.5 L244.8 222.7 L244.5 221.9 L244.1 221.2 L243.9 220.4 L243.6 219.5 L243.4 218.6 L243.3 217.7 L243.1 216.8 L242.4 216.0 L241.5 215.4 L240.7 215.0Z"/>
<path fill="#000" d="M336.4 190.1 L336.6 190.7 L336.8 191.4 L337.2 192.2 L337.6 193.0 L337.9 193.8 L338.3 194.6 L338.6 195.3 L338.9 195.9 L339.2 196.7 L339.5 197.8 L339.8 199.0 L340.0 200.3 L340.2 201.6 L340.4 202.9 L340.6 204.1 L340.7 205.3 L340.8 206.2 L340.9 207.1 L340.9 207.9 L340.9 208.6 L340.9 209.3 L340.9 210.1 L340.8 210.9 L340.7 211.8 L340.6 212.7 L340.5 213.7 L340.3 214.7 L340.2 215.7 L340.0 216.6 L339.8 217.6 L339.6 218.5 L339.3 219.3 L339.1 220.0 L338.7 220.7 L338.3 221.4 L337.9 222.1 L337.4 222.9 L337.0 223.7 L336.6 224.5 L336.3 225.4 L336.1 226.3 L336.1 227.2 L336.2 227.9 L336.4 228.6 L336.6 229.1 L336.7 229.4 L336.8 229.6 L336.8 229.7 L341.2 228.3 L341.1 228.0 L340.9 227.6 L340.8 227.4 L340.8 227.2 L340.7 227.0 L340.7 226.9 L340.7 226.8 L340.7 226.6 L340.8 226.3 L341.1 225.8 L341.4 225.2 L341.9 224.5 L342.3 223.7 L342.8 222.8 L343.3 221.8 L343.7 220.7 L344.0 219.7 L344.3 218.6 L344.5 217.6 L344.7 216.5 L344.9 215.4 L345.0 214.3 L345.2 213.2 L345.3 212.2 L345.4 211.3 L345.4 210.4 L345.5 209.5 L345.5 208.6 L345.5 207.7 L345.5 206.8 L345.4 205.8 L345.3 204.7 L345.1 203.6 L345.0 202.3 L344.8 200.9 L344.5 199.5 L344.3 198.0 L344.0 196.6 L343.6 195.3 L343.1 194.1 L342.5 192.9 L341.6 192.0 L340.7 191.2 L339.7 190.7 L338.7 190.4 L337.9 190.2 L337.2 190.0 L336.6 189.9Z"/>
<path fill="#4a4a4a" d="M313.1 216.7 L314.1 216.3 L315.5 215.8 L317.1 215.2 L318.8 214.5 L320.6 213.6 L322.3 212.7 L323.9 211.9 L325.3 211.1 L326.6 210.2 L327.8 209.4 L328.9 208.5 L329.9 207.5 L330.7 206.7 L331.5 205.9 L332.1 205.2 L332.6 204.7 L332.4 204.3 L331.8 204.8 L331.0 205.3 L330.1 206.0 L329.1 206.7 L328.1 207.5 L327.0 208.3 L325.8 209.2 L324.7 209.9 L323.3 210.7 L321.7 211.6 L320.0 212.4 L318.3 213.3 L316.6 214.2 L315.1 215.0 L313.8 215.8 L312.9 216.3Z"/>
<path fill="#4a4a4a" d="M256.0 225.7 L256.6 225.9 L257.5 226.2 L258.5 226.6 L259.6 227.0 L260.9 227.4 L262.2 227.8 L263.6 228.1 L264.9 228.3 L266.3 228.4 L267.7 228.5 L269.1 228.5 L270.6 228.5 L272.2 228.5 L273.7 228.5 L275.3 228.5 L277.0 228.5 L278.8 228.5 L280.9 228.4 L283.1 228.4 L285.3 228.2 L287.4 228.0 L289.2 227.8 L290.8 227.6 L292.0 227.5 L292.0 227.1 L290.8 227.0 L289.2 227.0 L287.3 226.9 L285.2 226.8 L283.0 226.8 L280.9 226.8 L278.8 226.9 L277.0 226.9 L275.3 226.9 L273.7 226.9 L272.1 226.9 L270.6 227.0 L269.2 226.9 L267.8 226.9 L266.4 226.8 L265.1 226.7 L263.8 226.6 L262.5 226.4 L261.1 226.2 L259.9 226.0 L258.7 225.8 L257.6 225.6 L256.7 225.4 L256.0 225.3Z"/>
<path fill="#000" d="M287.5 230.2 L288.7 230.2 L290.2 230.2 L292.0 230.3 L294.0 230.3 L296.2 230.2 L298.4 230.1 L300.6 229.8 L302.7 229.4 L304.7 228.9 L306.8 228.4 L308.9 227.8 L311.0 227.1 L313.1 226.4 L315.2 225.5 L317.4 224.5 L319.5 223.3 L321.7 221.9 L324.1 220.1 L326.5 218.1 L328.8 216.0 L331.0 213.9 L332.9 212.0 L334.4 210.3 L335.6 209.2 L335.4 208.8 L334.0 209.9 L332.2 211.2 L330.1 212.9 L327.8 214.8 L325.3 216.7 L322.9 218.6 L320.6 220.3 L318.5 221.7 L316.5 222.8 L314.5 223.8 L312.4 224.6 L310.4 225.4 L308.3 226.0 L306.3 226.6 L304.3 227.1 L302.3 227.6 L300.3 228.0 L298.2 228.4 L296.0 228.7 L293.9 229.0 L291.9 229.2 L290.1 229.4 L288.6 229.6 L287.5 229.8Z"/>
<path fill="#000" d="M271.0 234.7 L271.6 234.9 L272.5 235.2 L273.5 235.5 L274.6 235.8 L275.9 236.2 L277.2 236.5 L278.6 236.8 L280.0 236.9 L281.3 237.0 L282.7 237.0 L284.1 236.9 L285.5 236.8 L287.0 236.7 L288.6 236.6 L290.3 236.4 L292.1 236.2 L294.2 236.0 L296.6 235.7 L299.2 235.4 L301.9 235.0 L304.4 234.5 L306.7 234.0 L308.6 233.5 L310.0 233.2 L310.0 232.8 L308.5 232.8 L306.6 232.9 L304.2 233.1 L301.6 233.2 L299.0 233.5 L296.4 233.8 L294.0 234.1 L291.9 234.4 L290.1 234.5 L288.4 234.7 L286.9 234.8 L285.4 234.9 L284.0 235.0 L282.6 235.1 L281.3 235.1 L280.0 235.1 L278.8 235.1 L277.4 235.0 L276.1 234.9 L274.9 234.7 L273.7 234.6 L272.6 234.5 L271.7 234.4 L271.0 234.3Z"/>
<path fill="#000" d="M299.6 246.7 L301.0 246.4 L302.8 246.0 L305.1 245.6 L307.5 245.1 L310.1 244.3 L312.8 243.5 L315.4 242.5 L317.9 241.4 L320.5 240.0 L323.2 238.5 L326.1 236.7 L328.9 234.9 L331.5 233.0 L333.8 231.3 L335.7 229.8 L337.1 228.7 L336.9 228.3 L335.3 229.2 L333.1 230.3 L330.6 231.7 L327.9 233.4 L325.1 235.1 L322.2 236.8 L319.5 238.4 L317.1 239.6 L314.7 240.7 L312.2 241.7 L309.6 242.6 L307.0 243.4 L304.7 244.3 L302.6 245.1 L300.8 245.8 L299.4 246.3Z"/>
<path fill="#000" d="M251.3 242.0 L250.5 243.4 L249.8 245.1 L249.9 246.9 L250.3 249.0 L250.6 251.2 L251.0 253.5 L251.4 255.8 L251.7 257.9 L252.1 260.0 L252.5 262.1 L252.9 264.2 L253.3 266.4 L253.8 268.6 L254.2 270.8 L254.7 273.1 L255.3 275.5 L255.8 278.0 L256.5 280.6 L257.2 283.3 L257.9 286.0 L258.6 288.7 L259.3 291.4 L259.9 294.0 L260.5 296.5 L261.0 298.9 L261.5 301.2 L261.9 303.4 L262.3 305.6 L262.7 307.8 L263.1 310.1 L263.5 312.4 L264.0 314.9 L264.6 317.4 L265.2 320.2 L265.8 322.9 L266.4 325.7 L267.1 328.5 L267.7 331.2 L268.3 333.7 L268.7 336.0 L269.2 338.0 L269.5 339.8 L269.8 341.5 L270.0 343.2 L270.3 344.8 L270.6 346.4 L270.9 348.1 L271.2 350.0 L271.7 352.0 L272.2 354.3 L272.7 356.7 L273.3 359.1 L273.8 361.4 L274.3 363.5 L274.7 365.2 L275.0 366.5 L279.5 365.5 L279.2 364.2 L278.8 362.5 L278.3 360.4 L277.8 358.1 L277.2 355.7 L276.7 353.3 L276.2 351.1 L275.8 349.0 L275.4 347.3 L275.1 345.6 L274.8 344.0 L274.6 342.4 L274.3 340.8 L274.0 339.0 L273.7 337.1 L273.3 335.0 L272.8 332.7 L272.2 330.2 L271.6 327.5 L270.9 324.7 L270.3 321.9 L269.6 319.1 L269.0 316.5 L268.5 313.9 L268.0 311.5 L267.6 309.3 L267.2 307.0 L266.8 304.8 L266.4 302.6 L266.0 300.3 L265.5 297.9 L265.0 295.5 L264.4 292.9 L263.8 290.3 L263.1 287.6 L262.4 284.9 L261.6 282.2 L261.0 279.5 L260.3 276.9 L259.7 274.5 L259.2 272.1 L258.7 269.9 L258.3 267.6 L257.8 265.5 L257.4 263.3 L257.0 261.2 L256.6 259.2 L256.3 257.1 L255.9 255.0 L255.5 252.7 L255.2 250.5 L254.8 248.3 L254.5 246.2 L254.0 244.4 L252.9 243.0 L251.7 242.0ZM274.95 366.00 a2.30 2.30 0 1 0 4.60 0 a2.30 2.30 0 1 0 -4.60 0Z"/>
<path fill="#000" d="M338.3 226.0 L337.9 226.5 L337.5 227.0 L337.1 227.6 L336.9 228.2 L336.9 229.0 L337.1 229.8 L337.2 230.9 L337.4 232.3 L337.6 234.0 L337.9 236.0 L338.1 238.3 L338.4 240.8 L338.7 243.3 L339.0 245.8 L339.3 248.2 L339.6 250.4 L340.0 252.3 L340.4 254.0 L340.8 255.6 L341.2 257.1 L341.6 258.6 L342.1 260.2 L342.5 261.8 L342.9 263.8 L343.4 266.0 L343.9 268.5 L344.5 271.2 L345.0 274.0 L345.6 276.8 L346.1 279.4 L346.5 281.7 L346.9 283.7 L347.3 285.3 L347.5 286.5 L347.7 287.6 L347.9 288.5 L348.1 289.3 L348.3 290.2 L348.6 291.2 L349.0 292.4 L349.5 293.7 L350.1 295.1 L350.7 296.4 L351.3 297.7 L351.9 299.2 L352.6 300.6 L353.2 302.2 L353.8 304.0 L354.4 305.9 L355.0 308.1 L355.7 310.5 L356.3 313.0 L356.9 315.5 L357.6 318.0 L358.2 320.2 L358.8 322.3 L359.4 324.2 L360.0 325.9 L360.5 327.6 L361.1 329.2 L361.6 330.6 L362.1 331.9 L362.6 333.1 L363.1 334.2 L363.6 335.1 L364.1 335.9 L364.6 336.6 L365.0 337.1 L365.5 337.5 L365.8 337.7 L365.9 337.9 L366.0 338.0 L369.0 335.0 L368.7 334.8 L368.4 334.5 L368.2 334.3 L368.0 334.1 L367.8 333.9 L367.5 333.6 L367.3 333.1 L366.9 332.4 L366.5 331.5 L366.0 330.4 L365.5 329.1 L365.0 327.7 L364.5 326.2 L363.9 324.6 L363.4 322.9 L362.8 321.1 L362.2 319.1 L361.6 316.9 L361.0 314.5 L360.4 312.0 L359.7 309.5 L359.1 307.0 L358.4 304.7 L357.8 302.6 L357.1 300.8 L356.5 299.0 L355.8 297.5 L355.1 296.0 L354.5 294.6 L353.9 293.4 L353.4 292.2 L353.0 291.0 L352.6 289.9 L352.4 289.1 L352.2 288.3 L352.0 287.6 L351.8 286.7 L351.6 285.7 L351.4 284.5 L351.1 282.9 L350.6 280.9 L350.2 278.6 L349.7 276.0 L349.1 273.2 L348.6 270.4 L348.1 267.7 L347.5 265.1 L347.1 262.8 L346.6 260.9 L346.1 259.1 L345.7 257.5 L345.3 256.0 L344.9 254.5 L344.5 253.0 L344.1 251.4 L343.8 249.6 L343.4 247.6 L343.1 245.3 L342.8 242.8 L342.5 240.3 L342.3 237.9 L342.0 235.5 L341.8 233.5 L341.6 231.7 L341.4 230.3 L341.2 229.2 L341.1 228.3 L340.9 227.5 L340.4 227.0 L339.8 226.6 L339.3 226.3 L338.7 226.0ZM365.40 336.50 a2.10 2.10 0 1 0 4.20 0 a2.10 2.10 0 1 0 -4.20 0Z"/>
<path fill="#000" d="M255.7 248.9 L256.4 249.4 L257.2 250.1 L258.3 250.9 L259.5 251.8 L260.9 252.7 L262.5 253.5 L264.2 254.3 L266.0 254.9 L267.9 255.5 L269.9 256.0 L272.2 256.5 L274.5 257.0 L276.8 257.5 L279.2 257.9 L281.5 258.2 L283.7 258.4 L285.9 258.6 L288.2 258.7 L290.5 258.6 L292.7 258.4 L294.8 258.2 L296.7 258.0 L298.3 257.8 L299.5 257.7 L299.5 257.3 L298.3 257.2 L296.7 257.1 L294.8 257.1 L292.7 257.0 L290.5 256.9 L288.2 256.8 L286.0 256.7 L283.8 256.6 L281.7 256.3 L279.5 256.0 L277.2 255.6 L274.9 255.1 L272.6 254.7 L270.4 254.2 L268.4 253.6 L266.5 253.1 L264.9 252.5 L263.3 251.8 L261.7 251.2 L260.3 250.5 L258.9 249.9 L257.7 249.3 L256.7 248.9 L255.8 248.6Z"/>
<path fill="#000" d="M315.3 254.2 L316.4 253.9 L317.8 253.5 L319.5 252.9 L321.3 252.2 L323.2 251.4 L325.0 250.5 L326.6 249.6 L328.0 248.8 L329.2 248.0 L330.4 247.0 L331.4 246.1 L332.3 245.1 L333.1 244.1 L333.7 243.2 L334.2 242.5 L334.6 241.9 L334.4 241.6 L333.8 242.0 L333.0 242.6 L332.2 243.2 L331.2 243.9 L330.2 244.7 L329.2 245.6 L328.1 246.4 L327.0 247.2 L325.7 248.0 L324.1 248.8 L322.3 249.7 L320.5 250.5 L318.8 251.5 L317.3 252.4 L316.1 253.2 L315.2 253.8Z"/>
<path fill="#000" d="M266.2 262.9 L267.5 263.3 L269.3 263.8 L271.3 264.4 L273.7 264.9 L276.1 265.4 L278.7 265.8 L281.3 266.1 L283.7 266.3 L286.2 266.5 L288.9 266.5 L291.7 266.5 L294.5 266.5 L297.1 266.3 L299.5 266.0 L301.5 265.8 L303.0 265.6 L303.0 265.2 L301.5 265.1 L299.5 264.9 L297.1 264.8 L294.5 264.7 L291.7 264.6 L288.9 264.6 L286.2 264.6 L283.8 264.5 L281.5 264.2 L279.0 263.9 L276.4 263.6 L273.9 263.2 L271.6 263.0 L269.4 262.8 L267.6 262.6 L266.3 262.6Z"/>
<path fill="#4a4a4a" d="M296.0 261.2 L297.1 261.2 L298.6 261.1 L300.4 261.0 L302.3 260.9 L304.4 260.6 L306.4 260.4 L308.3 260.1 L310.1 259.9 L311.8 259.7 L313.5 259.4 L315.3 259.2 L317.0 258.8 L318.5 258.5 L319.9 258.2 L321.1 257.9 L322.0 257.7 L322.0 257.3 L321.0 257.4 L319.8 257.4 L318.4 257.5 L316.8 257.7 L315.1 257.9 L313.3 258.1 L311.6 258.4 L309.9 258.6 L308.2 258.8 L306.2 259.1 L304.2 259.3 L302.2 259.6 L300.2 259.9 L298.5 260.3 L297.1 260.6 L296.0 260.8Z"/>
<path fill="#000" d="M327.6 258.6 L328.4 258.2 L329.4 257.7 L330.5 257.0 L331.6 256.0 L332.7 255.1 L333.6 254.1 L334.2 253.1 L334.6 252.4 L334.4 252.1 L333.6 252.4 L332.6 252.9 L331.5 253.7 L330.4 254.6 L329.3 255.6 L328.4 256.6 L327.8 257.6 L327.4 258.2Z"/>
<path fill="#4a4a4a" d="M310.1 274.2 L310.7 274.1 L311.6 274.0 L312.6 273.7 L313.7 273.4 L314.8 273.0 L315.8 272.5 L316.5 272.0 L317.1 271.7 L316.9 271.3 L316.3 271.4 L315.4 271.5 L314.4 271.8 L313.3 272.1 L312.2 272.5 L311.2 273.0 L310.5 273.5 L309.9 273.8Z"/>
<path fill="#000" d="M325.9 273.4 L326.9 272.9 L328.4 272.0 L330.0 270.9 L331.6 269.6 L333.2 268.2 L334.6 266.8 L335.7 265.6 L336.4 264.7 L336.1 264.3 L335.1 264.9 L333.6 265.7 L332.0 266.8 L330.4 268.1 L328.8 269.5 L327.4 270.9 L326.3 272.2 L325.6 273.1Z"/>
<path fill="#000" d="M271.5 281.2 L272.8 281.5 L274.6 281.9 L276.7 282.4 L279.1 282.8 L281.6 283.2 L284.1 283.5 L286.6 283.8 L288.9 283.9 L291.1 284.1 L293.1 284.3 L295.2 284.4 L297.3 284.5 L299.4 284.6 L301.7 284.5 L304.1 284.3 L306.7 283.9 L309.6 283.3 L313.0 282.5 L316.5 281.5 L320.1 280.3 L323.5 279.1 L326.6 277.9 L329.2 276.9 L331.1 276.2 L330.9 275.8 L329.0 276.3 L326.3 276.9 L323.1 277.8 L319.6 278.7 L316.0 279.7 L312.5 280.7 L309.2 281.5 L306.3 282.1 L303.9 282.4 L301.6 282.6 L299.4 282.7 L297.3 282.6 L295.3 282.5 L293.3 282.4 L291.2 282.2 L289.1 282.1 L286.8 281.9 L284.3 281.6 L281.8 281.4 L279.3 281.2 L276.9 281.0 L274.7 280.9 L272.9 280.8 L271.5 280.8Z"/>
<path fill="#4a4a4a" d="M324.1 290.9 L325.6 290.3 L327.8 289.4 L330.3 288.3 L333.0 287.0 L335.7 285.6 L338.2 284.2 L340.2 283.0 L341.6 282.2 L341.4 281.8 L339.9 282.4 L337.7 283.3 L335.2 284.5 L332.5 285.8 L329.8 287.2 L327.3 288.5 L325.3 289.7 L323.9 290.6Z"/>
<path fill="#000" d="M295.5 295.2 L296.3 295.4 L297.4 295.6 L298.7 295.9 L300.2 296.2 L301.8 296.4 L303.5 296.6 L305.2 296.6 L307.0 296.6 L308.9 296.6 L311.1 296.6 L313.4 296.5 L315.8 296.3 L318.0 296.1 L320.1 295.8 L321.8 295.4 L323.0 295.2 L323.0 294.8 L321.7 294.7 L320.0 294.6 L317.9 294.5 L315.7 294.5 L313.3 294.6 L311.0 294.7 L308.9 294.7 L307.0 294.8 L305.3 294.7 L303.6 294.7 L301.9 294.6 L300.3 294.6 L298.8 294.6 L297.5 294.7 L296.4 294.7 L295.5 294.8Z"/>
<path fill="#000" d="M270.9 298.2 L271.7 298.6 L272.6 299.1 L273.7 299.7 L275.0 300.4 L276.5 301.0 L278.2 301.6 L280.2 302.1 L282.4 302.3 L285.1 302.4 L288.3 302.4 L291.8 302.3 L295.5 302.2 L299.1 301.9 L302.3 301.5 L305.0 301.1 L307.0 300.8 L307.0 300.4 L305.0 300.3 L302.3 300.2 L299.0 300.1 L295.4 300.3 L291.8 300.4 L288.3 300.5 L285.1 300.5 L282.6 300.5 L280.5 300.2 L278.6 299.9 L277.0 299.5 L275.5 299.1 L274.1 298.7 L272.9 298.3 L271.9 298.0 L271.1 297.8Z"/>
<path fill="#000" d="M313.4 303.2 L314.6 303.0 L316.1 302.9 L318.0 302.6 L320.0 302.3 L322.1 301.8 L324.3 301.2 L326.4 300.6 L328.3 299.9 L330.3 299.1 L332.4 298.1 L334.6 297.0 L336.6 295.8 L338.6 294.6 L340.2 293.5 L341.6 292.5 L342.7 291.8 L342.5 291.4 L341.3 291.9 L339.7 292.5 L337.8 293.3 L335.8 294.3 L333.7 295.3 L331.6 296.4 L329.5 297.3 L327.7 298.1 L325.8 298.8 L323.7 299.4 L321.6 300.0 L319.6 300.6 L317.6 301.2 L315.9 301.8 L314.4 302.4 L313.4 302.8Z"/>
<path fill="#4a4a4a" d="M320.1 306.4 L321.9 306.1 L324.4 305.5 L327.5 304.6 L330.7 303.6 L333.9 302.6 L336.9 301.6 L339.4 300.7 L341.1 299.9 L340.9 299.6 L339.1 299.9 L336.6 300.5 L333.5 301.4 L330.3 302.4 L327.1 303.4 L324.1 304.4 L321.6 305.3 L319.9 306.1Z"/>
<path fill="#4a4a4a" d="M323.1 312.9 L324.1 312.8 L325.5 312.6 L327.1 312.2 L328.9 311.8 L330.7 311.2 L332.3 310.7 L333.6 310.1 L334.6 309.7 L334.4 309.3 L333.4 309.4 L332.0 309.7 L330.4 310.0 L328.6 310.5 L326.8 311.0 L325.2 311.6 L323.9 312.1 L322.9 312.6Z"/>
<path fill="#4a4a4a" d="M279.3 319.4 L280.5 319.4 L282.2 319.3 L284.2 319.2 L286.4 319.1 L288.8 318.9 L291.1 318.6 L293.4 318.4 L295.5 318.2 L297.7 318.1 L300.0 318.0 L302.3 317.9 L304.7 317.7 L306.9 317.5 L308.8 317.3 L310.5 317.1 L311.8 317.0 L311.7 316.6 L310.5 316.6 L308.8 316.5 L306.8 316.5 L304.6 316.5 L302.3 316.6 L299.9 316.7 L297.6 316.8 L295.5 317.0 L293.3 317.1 L291.0 317.3 L288.6 317.6 L286.3 317.9 L284.1 318.2 L282.1 318.5 L280.5 318.8 L279.2 319.1Z"/>
<path fill="#000" d="M274.4 320.2 L275.6 320.4 L277.1 320.8 L278.9 321.1 L280.9 321.5 L283.1 321.9 L285.5 322.2 L288.0 322.4 L290.5 322.6 L293.4 322.9 L296.6 323.1 L300.2 323.3 L303.8 323.5 L307.2 323.6 L310.4 323.6 L313.0 323.6 L315.0 323.5 L315.0 323.1 L313.1 322.8 L310.5 322.4 L307.3 322.0 L303.9 321.7 L300.3 321.4 L296.8 321.2 L293.5 321.0 L290.7 320.8 L288.2 320.5 L285.7 320.3 L283.3 320.1 L281.1 320.0 L279.0 319.9 L277.2 319.9 L275.6 319.8 L274.4 319.8Z"/>
<path fill="#4a4a4a" d="M334.6 322.7 L335.9 322.1 L337.7 321.3 L339.8 320.3 L342.1 319.0 L344.3 317.8 L346.3 316.5 L348.0 315.4 L349.1 314.6 L348.9 314.2 L347.6 314.8 L345.8 315.6 L343.7 316.6 L341.4 317.9 L339.2 319.1 L337.2 320.4 L335.5 321.5 L334.4 322.3Z"/>
<path fill="#000" d="M306.9 331.6 L308.1 331.8 L309.6 332.0 L311.5 332.3 L313.6 332.5 L315.9 332.7 L318.3 332.7 L320.7 332.6 L323.1 332.3 L325.7 331.9 L328.6 331.4 L331.7 330.7 L334.9 329.9 L337.8 329.0 L340.5 328.2 L342.7 327.4 L344.3 326.8 L344.2 326.4 L342.5 326.6 L340.2 327.0 L337.4 327.5 L334.4 328.1 L331.3 328.8 L328.3 329.5 L325.4 330.1 L322.9 330.5 L320.6 330.7 L318.2 330.8 L315.9 330.8 L313.6 330.9 L311.6 331.0 L309.7 331.0 L308.1 331.1 L306.9 331.2Z"/>
<path fill="#000" d="M331.3 334.1 L333.3 333.5 L335.9 332.5 L339.0 331.1 L342.3 329.4 L345.5 327.8 L348.5 326.2 L350.9 324.7 L352.5 323.5 L352.3 323.1 L350.4 323.7 L347.7 324.7 L344.7 326.1 L341.4 327.8 L338.1 329.4 L335.2 331.0 L332.8 332.5 L331.2 333.7Z"/>
<path fill="#000" d="M280.9 334.1 L282.0 334.6 L283.3 335.3 L285.0 336.1 L286.8 337.0 L288.9 337.7 L291.0 338.4 L293.2 338.8 L295.4 339.1 L297.7 339.3 L300.2 339.2 L302.8 339.1 L305.4 338.9 L307.9 338.5 L310.2 338.0 L312.0 337.5 L313.4 337.2 L313.4 336.8 L312.0 336.7 L310.0 336.6 L307.8 336.6 L305.3 336.7 L302.7 336.8 L300.1 336.9 L297.7 337.0 L295.6 336.9 L293.6 336.6 L291.6 336.1 L289.5 335.6 L287.4 335.0 L285.5 334.6 L283.7 334.2 L282.2 333.9 L281.1 333.7Z"/>
<path fill="#4a4a4a" d="M293.9 338.9 L294.9 339.1 L296.1 339.3 L297.6 339.6 L299.3 339.8 L301.2 340.0 L303.1 340.1 L305.0 340.2 L306.9 340.2 L308.9 340.2 L311.1 340.1 L313.5 340.0 L315.8 339.9 L318.0 339.6 L320.1 339.4 L321.8 339.1 L323.0 338.9 L323.0 338.6 L321.7 338.5 L320.0 338.5 L318.0 338.5 L315.7 338.6 L313.4 338.7 L311.1 338.8 L308.9 338.9 L306.9 339.0 L305.1 338.9 L303.2 338.8 L301.3 338.7 L299.4 338.7 L297.7 338.6 L296.2 338.6 L294.9 338.5 L293.9 338.6Z"/>
<path fill="#4a4a4a" d="M336.0 341.4 L338.0 341.3 L340.7 341.1 L344.0 340.7 L347.5 340.2 L351.1 339.7 L354.3 339.2 L357.0 338.7 L358.9 338.2 L358.9 337.8 L356.9 337.9 L354.2 338.1 L350.9 338.5 L347.4 339.0 L343.8 339.5 L340.6 340.0 L337.9 340.5 L336.0 341.0Z"/>
<path fill="#4a4a4a" d="M305.0 348.9 L306.1 349.1 L307.6 349.4 L309.3 349.8 L311.3 350.2 L313.4 350.5 L315.6 350.8 L317.9 350.9 L320.0 350.9 L322.2 350.7 L324.3 350.4 L326.5 350.1 L328.8 349.7 L331.1 349.2 L333.4 348.6 L335.8 347.9 L338.2 347.1 L340.9 346.2 L343.8 345.0 L346.8 343.7 L349.9 342.3 L352.7 340.9 L355.3 339.6 L357.5 338.5 L359.1 337.7 L358.9 337.3 L357.2 338.0 L355.0 338.9 L352.3 340.0 L349.4 341.2 L346.3 342.5 L343.3 343.8 L340.4 345.0 L337.8 345.9 L335.4 346.6 L333.0 347.3 L330.7 347.9 L328.5 348.4 L326.3 348.8 L324.1 349.2 L322.0 349.4 L320.0 349.6 L317.9 349.7 L315.7 349.6 L313.6 349.5 L311.4 349.3 L309.5 349.1 L307.7 348.8 L306.2 348.7 L305.0 348.6Z"/>
<path fill="#4a4a4a" d="M285.4 352.7 L286.4 353.0 L287.6 353.5 L289.1 354.1 L290.8 354.8 L292.6 355.4 L294.6 356.0 L296.7 356.6 L298.9 357.0 L301.1 357.3 L303.5 357.7 L306.0 357.9 L308.6 358.2 L311.3 358.3 L314.2 358.3 L317.1 358.2 L320.1 357.8 L323.5 357.1 L327.2 356.1 L331.1 355.0 L335.0 353.6 L338.8 352.2 L342.2 350.9 L345.0 349.7 L347.1 348.9 L346.9 348.6 L344.8 349.2 L341.9 350.0 L338.4 351.1 L334.6 352.2 L330.6 353.4 L326.7 354.6 L323.1 355.6 L319.9 356.2 L317.0 356.6 L314.1 356.7 L311.4 356.7 L308.7 356.6 L306.1 356.4 L303.7 356.1 L301.3 355.8 L299.1 355.5 L297.0 355.2 L294.9 354.8 L292.9 354.4 L291.1 353.9 L289.4 353.4 L287.9 352.9 L286.6 352.6 L285.6 352.3Z"/>
<path fill="#000" d="M474.9 146.6 L475.4 146.4 L476.0 146.2 L476.8 145.9 L477.6 145.6 L478.4 145.2 L479.1 144.8 L479.8 144.4 L480.5 144.2 L481.2 144.0 L482.0 143.9 L482.8 143.8 L483.6 143.8 L484.4 143.7 L485.2 143.8 L486.0 143.9 L486.8 144.0 L487.6 144.1 L488.5 144.3 L489.4 144.5 L490.3 144.8 L491.3 145.1 L492.2 145.5 L493.1 145.9 L494.0 146.4 L494.8 146.8 L495.7 147.4 L496.5 148.0 L497.4 148.7 L498.3 149.3 L499.1 150.0 L499.8 150.7 L500.5 151.4 L501.2 152.0 L501.8 152.6 L502.4 153.2 L502.9 153.7 L503.3 154.3 L503.7 154.8 L503.9 155.2 L504.1 155.7 L504.2 156.2 L504.3 156.7 L504.3 157.3 L504.2 157.9 L504.1 158.5 L504.0 159.2 L503.8 159.8 L503.6 160.5 L503.3 161.1 L502.9 161.8 L502.5 162.5 L502.0 163.2 L501.4 163.9 L500.9 164.6 L500.2 165.3 L499.6 166.0 L498.9 166.6 L498.2 167.2 L497.4 167.9 L496.6 168.5 L495.8 169.1 L494.9 169.7 L494.0 170.3 L493.0 170.9 L491.9 171.5 L490.6 172.2 L489.3 172.8 L487.9 173.6 L486.7 174.5 L485.7 175.5 L484.9 176.5 L484.3 177.2 L484.5 177.6 L485.4 177.6 L486.7 177.6 L488.1 177.4 L489.6 177.1 L491.1 176.4 L492.5 175.7 L493.8 175.0 L495.0 174.3 L496.1 173.7 L497.1 173.0 L498.1 172.4 L499.0 171.7 L499.9 171.0 L500.8 170.3 L501.6 169.6 L502.4 168.8 L503.2 168.0 L503.9 167.2 L504.6 166.4 L505.2 165.6 L505.8 164.7 L506.4 163.8 L506.8 162.9 L507.2 162.0 L507.6 161.1 L507.9 160.2 L508.1 159.3 L508.2 158.3 L508.3 157.4 L508.3 156.4 L508.1 155.5 L507.9 154.5 L507.5 153.6 L507.1 152.7 L506.5 151.9 L505.9 151.2 L505.3 150.4 L504.7 149.8 L504.0 149.1 L503.3 148.4 L502.5 147.7 L501.7 147.0 L500.8 146.3 L499.9 145.5 L498.9 144.8 L497.9 144.1 L496.9 143.4 L495.8 142.8 L494.8 142.3 L493.8 141.8 L492.7 141.4 L491.6 141.0 L490.5 140.7 L489.4 140.4 L488.3 140.2 L487.2 140.0 L486.2 140.0 L485.1 140.1 L484.1 140.2 L483.1 140.4 L482.1 140.6 L481.2 140.9 L480.4 141.2 L479.5 141.6 L478.6 142.0 L477.8 142.6 L477.0 143.1 L476.3 143.8 L475.7 144.5 L475.3 145.2 L474.9 145.8 L474.6 146.2Z"/>
<path fill="#000" d="M484.5 151.5 L484.4 151.2 L484.3 150.9 L484.2 150.5 L484.0 150.1 L483.7 149.6 L483.4 149.1 L482.9 148.5 L482.3 148.1 L481.7 147.7 L481.0 147.3 L480.3 146.9 L479.4 146.6 L478.5 146.4 L477.5 146.2 L476.5 146.1 L475.5 146.1 L474.6 146.2 L473.6 146.3 L472.7 146.4 L471.7 146.7 L470.7 146.9 L469.7 147.3 L468.7 147.7 L467.7 148.1 L466.7 148.6 L465.8 149.2 L464.8 149.8 L463.9 150.5 L462.9 151.2 L462.0 152.0 L461.1 152.8 L460.2 153.7 L459.3 154.6 L458.4 155.6 L457.6 156.7 L456.7 157.7 L455.9 158.8 L455.2 159.9 L454.5 160.9 L453.8 161.9 L453.2 162.9 L452.6 163.9 L452.1 164.9 L451.6 165.8 L451.2 166.8 L450.8 167.7 L450.4 168.5 L450.1 169.4 L449.9 170.2 L449.7 171.1 L449.6 171.9 L449.7 172.6 L450.1 173.2 L450.6 173.7 L451.0 174.1 L451.4 174.4 L451.8 174.4 L452.2 174.1 L452.6 173.6 L453.1 173.2 L453.4 172.7 L453.6 172.2 L453.7 171.7 L453.7 171.2 L453.9 170.6 L454.1 170.0 L454.4 169.2 L454.8 168.4 L455.2 167.6 L455.6 166.7 L456.1 165.9 L456.6 165.0 L457.2 164.1 L457.8 163.1 L458.5 162.2 L459.2 161.2 L459.9 160.1 L460.7 159.2 L461.5 158.2 L462.3 157.3 L463.0 156.5 L463.8 155.8 L464.6 155.0 L465.4 154.4 L466.2 153.7 L467.1 153.1 L467.9 152.6 L468.7 152.1 L469.5 151.7 L470.3 151.3 L471.1 151.0 L471.8 150.8 L472.6 150.5 L473.4 150.4 L474.2 150.2 L474.9 150.1 L475.7 150.1 L476.3 150.1 L477.0 150.2 L477.8 150.3 L478.5 150.4 L479.2 150.5 L479.9 150.6 L480.6 150.7 L481.2 150.7 L481.7 150.8 L482.1 150.8 L482.5 150.9 L482.9 151.1 L483.3 151.3 L483.7 151.5 L484.0 151.6 L484.3 151.7Z"/>
<path fill="#000" d="M451.9 174.6 L451.8 175.5 L451.9 176.5 L452.5 177.0 L453.2 177.6 L454.1 178.1 L455.1 178.7 L456.2 179.2 L457.5 179.7 L458.7 180.0 L460.1 180.3 L461.6 180.6 L463.1 180.8 L464.7 181.0 L466.3 181.2 L467.8 181.3 L469.4 181.4 L471.0 181.5 L472.8 181.6 L474.6 181.6 L476.4 181.6 L478.1 181.5 L479.6 181.3 L480.8 180.6 L481.8 179.8 L481.7 179.4 L480.8 178.6 L479.5 177.9 L478.0 177.8 L476.3 177.9 L474.6 177.9 L472.8 177.9 L471.1 177.8 L469.6 177.8 L468.1 177.6 L466.6 177.5 L465.1 177.3 L463.6 177.1 L462.2 176.9 L460.8 176.7 L459.6 176.4 L458.5 176.1 L457.6 175.8 L456.8 175.4 L456.0 175.0 L455.3 174.5 L454.7 174.0 L454.0 173.7 L453.0 173.9 L452.1 174.2Z"/>
<path fill="#000" d="M506.5 158.6 L507.0 159.3 L507.7 160.1 L508.5 160.9 L509.5 161.4 L510.5 161.6 L511.6 162.0 L512.5 162.4 L513.4 162.9 L514.4 163.6 L515.4 164.5 L516.5 165.5 L517.6 166.7 L518.7 167.9 L519.9 169.2 L521.0 170.5 L522.2 171.7 L523.3 173.0 L524.4 174.3 L525.5 175.7 L526.6 177.1 L527.8 178.6 L528.9 180.0 L530.1 181.4 L531.3 182.8 L532.5 184.0 L533.8 185.3 L535.0 186.4 L536.2 187.5 L537.4 188.6 L538.5 189.6 L539.5 190.7 L540.4 191.8 L541.3 193.0 L542.2 194.3 L543.1 195.6 L543.9 197.0 L544.6 198.3 L545.3 199.6 L545.9 200.9 L546.5 202.2 L546.9 203.5 L547.3 204.8 L547.6 206.0 L547.9 207.3 L548.0 208.6 L548.2 209.8 L548.2 211.1 L548.2 212.3 L548.1 213.5 L547.9 214.8 L547.6 216.2 L547.2 217.6 L546.8 218.9 L546.3 220.3 L545.9 221.5 L545.5 222.7 L545.2 223.6 L544.9 224.4 L544.5 225.1 L544.2 225.8 L543.8 226.5 L543.5 227.2 L543.1 228.0 L542.8 228.8 L542.6 229.5 L542.4 230.3 L542.3 231.0 L542.2 231.6 L542.1 232.1 L542.1 232.6 L542.1 232.9 L542.0 233.2 L546.6 233.8 L546.6 233.5 L546.7 233.1 L546.7 232.6 L546.8 232.2 L546.8 231.7 L546.9 231.2 L547.0 230.7 L547.2 230.2 L547.4 229.8 L547.6 229.2 L547.9 228.6 L548.3 227.9 L548.7 227.1 L549.1 226.2 L549.5 225.2 L549.9 224.1 L550.3 223.0 L550.7 221.7 L551.1 220.3 L551.6 218.8 L552.0 217.3 L552.4 215.7 L552.7 214.1 L552.8 212.5 L552.8 211.0 L552.8 209.5 L552.6 208.0 L552.4 206.5 L552.1 205.0 L551.7 203.5 L551.3 202.1 L550.7 200.6 L550.1 199.1 L549.4 197.6 L548.7 196.1 L547.8 194.6 L546.9 193.2 L546.0 191.7 L545.0 190.3 L544.0 189.0 L542.9 187.7 L541.7 186.4 L540.5 185.2 L539.3 184.1 L538.1 183.0 L536.9 181.9 L535.8 180.8 L534.7 179.6 L533.6 178.4 L532.5 177.1 L531.4 175.7 L530.3 174.3 L529.1 172.8 L528.0 171.4 L526.8 170.0 L525.6 168.7 L524.5 167.4 L523.3 166.1 L522.1 164.8 L520.9 163.5 L519.7 162.3 L518.5 161.1 L517.2 160.0 L516.0 159.1 L514.6 158.3 L513.2 157.7 L511.8 157.2 L510.6 156.9 L509.3 156.9 L508.2 157.3 L507.3 157.8 L506.5 158.2Z"/>
<path fill="#000" d="M451.1 173.9 L450.4 174.3 L449.5 174.9 L448.6 175.6 L447.7 176.5 L447.1 177.6 L446.6 178.9 L446.2 180.1 L445.8 181.4 L445.5 182.6 L445.2 183.9 L444.9 185.1 L444.7 186.4 L444.5 187.7 L444.4 189.0 L444.2 190.3 L444.1 191.6 L444.0 192.7 L444.0 193.9 L443.9 195.0 L443.9 196.1 L443.9 197.3 L444.0 198.5 L444.0 199.9 L444.1 201.4 L444.2 203.1 L444.3 205.1 L444.4 207.2 L444.6 209.4 L444.8 211.7 L445.0 213.9 L445.4 216.0 L445.8 218.0 L446.3 219.8 L446.8 221.5 L447.4 223.1 L448.1 224.6 L448.8 226.0 L449.5 227.3 L450.2 228.7 L450.9 230.0 L451.6 231.4 L452.3 232.9 L453.1 234.5 L453.9 236.1 L454.7 237.6 L455.7 239.1 L456.8 240.5 L458.0 241.8 L459.4 242.7 L460.8 243.5 L462.3 244.1 L463.8 244.5 L465.2 244.8 L466.7 245.0 L468.1 245.3 L469.6 245.6 L471.2 245.8 L473.2 246.0 L475.2 246.0 L477.2 246.0 L479.2 245.8 L480.9 245.7 L482.4 245.5 L483.5 245.4 L483.5 245.0 L482.5 244.6 L481.1 244.1 L479.4 243.5 L477.6 242.9 L475.7 242.4 L473.8 241.9 L472.0 241.4 L470.4 241.0 L468.9 240.7 L467.5 240.5 L466.1 240.2 L464.9 240.0 L463.7 239.7 L462.7 239.3 L461.8 238.8 L461.0 238.2 L460.2 237.5 L459.4 236.5 L458.7 235.3 L457.9 233.9 L457.2 232.5 L456.5 231.0 L455.8 229.5 L455.1 228.0 L454.3 226.5 L453.6 225.2 L452.9 223.9 L452.3 222.6 L451.7 221.3 L451.1 219.9 L450.7 218.5 L450.2 217.0 L449.9 215.3 L449.6 213.3 L449.4 211.2 L449.2 209.1 L449.0 206.9 L448.9 204.8 L448.8 202.9 L448.7 201.1 L448.6 199.6 L448.5 198.3 L448.5 197.2 L448.5 196.1 L448.5 195.1 L448.5 194.1 L448.6 193.1 L448.7 191.9 L448.8 190.8 L448.9 189.6 L449.1 188.4 L449.3 187.1 L449.5 186.0 L449.7 184.8 L449.9 183.7 L450.2 182.6 L450.5 181.6 L450.9 180.5 L451.4 179.4 L451.7 178.3 L451.8 177.1 L451.7 175.9 L451.6 174.9 L451.4 174.1Z"/>
<path fill="#4a4a4a" d="M514.5 168.1 L513.5 168.8 L512.3 169.8 L510.8 171.1 L509.3 172.6 L507.8 174.2 L506.5 175.6 L505.5 176.9 L504.8 177.9 L505.0 178.1 L506.0 177.4 L507.2 176.4 L508.7 175.1 L510.2 173.6 L511.7 172.0 L513.0 170.6 L514.0 169.3 L514.7 168.3Z"/>
<path fill="#4a4a4a" d="M461.0 187.9 L462.5 188.2 L464.6 188.6 L467.1 188.9 L469.9 189.1 L472.7 189.4 L475.2 189.6 L477.4 189.6 L478.9 189.5 L478.9 189.1 L477.4 188.8 L475.3 188.4 L472.8 188.1 L470.0 187.9 L467.2 187.6 L464.7 187.4 L462.5 187.4 L461.0 187.5Z"/>
<path fill="#000" d="M457.0 191.2 L457.7 191.5 L458.8 191.8 L460.0 192.2 L461.4 192.6 L462.9 192.9 L464.4 193.2 L466.0 193.4 L467.4 193.5 L468.9 193.7 L470.5 193.8 L472.2 193.8 L473.8 193.8 L475.4 193.7 L476.8 193.6 L478.0 193.4 L478.9 193.3 L478.9 192.9 L478.0 192.7 L476.8 192.5 L475.4 192.2 L473.9 192.1 L472.2 191.9 L470.6 191.9 L469.0 191.8 L467.6 191.7 L466.2 191.5 L464.7 191.3 L463.2 191.1 L461.7 190.9 L460.2 190.8 L459.0 190.8 L457.9 190.8 L457.0 190.8Z"/>
<path fill="#4a4a4a" d="M491.0 194.9 L491.8 194.9 L492.7 194.8 L493.9 194.7 L495.2 194.5 L496.5 194.2 L497.8 193.9 L499.1 193.4 L500.3 193.0 L501.5 192.4 L502.7 191.8 L503.9 191.1 L505.0 190.3 L506.0 189.5 L506.9 188.7 L507.7 188.1 L508.2 187.6 L508.0 187.2 L507.3 187.5 L506.4 188.0 L505.4 188.5 L504.2 189.1 L503.1 189.8 L501.9 190.5 L500.8 191.1 L499.7 191.6 L498.6 192.0 L497.4 192.4 L496.1 192.8 L494.8 193.2 L493.6 193.5 L492.5 193.9 L491.6 194.3 L491.0 194.6Z"/>
<path fill="#4a4a4a" d="M505.0 198.2 L505.7 198.1 L506.7 198.0 L507.9 197.8 L509.1 197.4 L510.4 197.0 L511.5 196.6 L512.4 196.1 L513.1 195.8 L512.9 195.4 L512.2 195.5 L511.2 195.6 L510.0 195.8 L508.8 196.2 L507.5 196.6 L506.4 197.0 L505.5 197.5 L504.8 197.8Z"/>
<path fill="#4a4a4a" d="M522.9 203.0 L523.8 202.3 L525.1 201.3 L526.6 200.0 L528.1 198.5 L529.6 196.9 L530.9 195.5 L531.9 194.2 L532.6 193.2 L532.4 193.0 L531.4 193.7 L530.1 194.7 L528.7 196.0 L527.2 197.5 L525.7 199.1 L524.4 200.5 L523.3 201.8 L522.6 202.8Z"/>
<path fill="#4a4a4a" d="M516.3 211.2 L517.4 210.8 L518.9 210.2 L520.6 209.4 L522.3 208.4 L524.1 207.4 L525.6 206.4 L526.8 205.4 L527.7 204.7 L527.5 204.3 L526.5 204.7 L525.0 205.3 L523.3 206.1 L521.5 207.1 L519.8 208.1 L518.2 209.1 L517.0 210.1 L516.2 210.8Z"/>
<path fill="#4a4a4a" d="M452.9 216.1 L454.2 216.6 L456.0 217.3 L458.3 217.9 L460.8 218.6 L463.3 219.2 L465.7 219.7 L467.6 220.0 L469.1 220.2 L469.1 219.8 L467.8 219.3 L466.0 218.6 L463.7 218.0 L461.2 217.3 L458.7 216.7 L456.3 216.2 L454.4 215.9 L452.9 215.7Z"/>
<path fill="#4a4a4a" d="M461.0 221.8 L462.1 222.1 L463.6 222.6 L465.3 223.1 L467.3 223.7 L469.5 224.1 L471.6 224.4 L473.7 224.7 L475.6 224.8 L477.4 224.8 L479.3 224.6 L481.3 224.4 L483.1 224.1 L484.8 223.7 L486.4 223.2 L487.7 222.9 L488.6 222.6 L488.6 222.2 L487.6 222.2 L486.2 222.3 L484.6 222.5 L482.9 222.6 L481.1 222.8 L479.2 223.0 L477.4 223.2 L475.6 223.2 L473.8 223.1 L471.8 222.8 L469.7 222.5 L467.6 222.1 L465.6 221.9 L463.8 221.6 L462.2 221.5 L461.0 221.4Z"/>
<path fill="#000" d="M505.0 250.2 L506.1 249.8 L507.7 249.3 L509.5 248.7 L511.5 248.0 L513.6 247.2 L515.8 246.3 L517.9 245.4 L519.9 244.3 L522.0 243.2 L524.1 242.0 L526.2 240.8 L528.4 239.4 L530.6 238.1 L532.6 236.8 L534.5 235.6 L536.3 234.6 L537.9 233.5 L539.4 232.5 L540.8 231.5 L542.1 230.5 L543.2 229.6 L544.1 228.7 L545.0 228.0 L545.6 227.4 L545.4 227.1 L544.6 227.5 L543.7 228.0 L542.5 228.6 L541.2 229.3 L539.8 230.1 L538.4 231.0 L536.8 231.9 L535.2 232.9 L533.5 234.0 L531.6 235.2 L529.6 236.5 L527.4 237.8 L525.3 239.1 L523.1 240.4 L521.0 241.6 L519.1 242.7 L517.1 243.7 L515.0 244.7 L512.9 245.7 L510.9 246.7 L509.0 247.6 L507.3 248.5 L505.9 249.2 L504.8 249.8Z"/>
<path fill="#000" d="M462.5 250.2 L463.1 250.8 L463.9 251.5 L465.1 252.0 L466.3 252.5 L467.6 253.0 L468.8 253.4 L469.9 253.5 L470.7 253.4 L470.8 253.1 L470.3 252.5 L469.4 251.8 L468.3 251.2 L467.0 250.7 L465.8 250.2 L464.6 249.9 L463.5 249.8 L462.7 249.8Z"/>
<path fill="#000" d="M526.1 251.8 L527.7 251.1 L529.8 250.0 L532.2 248.5 L534.7 246.7 L537.2 245.0 L539.4 243.3 L541.2 241.6 L542.4 240.4 L542.1 240.1 L540.6 240.8 L538.5 241.9 L536.1 243.4 L533.6 245.1 L531.1 246.9 L528.8 248.6 L527.1 250.2 L525.9 251.4Z"/>
<path fill="#000" d="M457.1 243.5 L456.3 244.9 L455.6 246.6 L455.7 248.4 L456.1 250.5 L456.4 252.7 L456.8 255.0 L457.2 257.3 L457.5 259.4 L457.9 261.5 L458.3 263.6 L458.7 265.7 L459.1 267.9 L459.6 270.1 L460.0 272.3 L460.5 274.6 L461.1 277.0 L461.6 279.5 L462.3 282.1 L463.0 284.8 L463.7 287.5 L464.4 290.2 L465.1 292.9 L465.7 295.5 L466.3 298.0 L466.8 300.4 L467.3 302.7 L467.7 304.9 L468.1 307.1 L468.5 309.3 L468.9 311.6 L469.3 313.9 L469.8 316.4 L470.4 318.9 L471.0 321.7 L471.6 324.4 L472.2 327.2 L472.9 330.0 L473.5 332.7 L474.1 335.2 L474.5 337.5 L475.0 339.5 L475.3 341.3 L475.6 343.0 L475.8 344.7 L476.1 346.3 L476.4 347.9 L476.7 349.6 L477.0 351.5 L477.5 353.5 L478.0 355.8 L478.5 358.2 L479.1 360.6 L479.6 362.9 L480.1 365.0 L480.5 366.7 L480.8 368.0 L485.3 367.0 L485.0 365.7 L484.6 364.0 L484.1 361.9 L483.6 359.6 L483.0 357.2 L482.5 354.8 L482.0 352.6 L481.6 350.5 L481.2 348.8 L480.9 347.1 L480.6 345.5 L480.4 343.9 L480.1 342.3 L479.8 340.5 L479.5 338.6 L479.1 336.5 L478.6 334.2 L478.0 331.7 L477.4 329.0 L476.7 326.2 L476.1 323.4 L475.4 320.6 L474.8 318.0 L474.3 315.4 L473.8 313.0 L473.4 310.8 L473.0 308.5 L472.6 306.3 L472.2 304.1 L471.8 301.8 L471.3 299.4 L470.8 297.0 L470.2 294.4 L469.6 291.8 L468.9 289.1 L468.2 286.4 L467.4 283.7 L466.8 281.0 L466.1 278.4 L465.5 276.0 L465.0 273.6 L464.5 271.4 L464.1 269.1 L463.6 267.0 L463.2 264.8 L462.8 262.7 L462.4 260.7 L462.1 258.6 L461.7 256.5 L461.3 254.2 L461.0 252.0 L460.6 249.8 L460.3 247.7 L459.8 245.9 L458.7 244.5 L457.5 243.5ZM480.75 367.50 a2.30 2.30 0 1 0 4.60 0 a2.30 2.30 0 1 0 -4.60 0Z"/>
<path fill="#000" d="M544.1 227.5 L543.7 228.0 L543.3 228.5 L542.9 229.1 L542.7 229.7 L542.7 230.5 L542.9 231.3 L543.0 232.4 L543.2 233.8 L543.4 235.5 L543.7 237.5 L543.9 239.8 L544.2 242.3 L544.5 244.8 L544.8 247.3 L545.1 249.7 L545.4 251.9 L545.8 253.8 L546.2 255.5 L546.6 257.1 L547.0 258.6 L547.4 260.1 L547.9 261.7 L548.3 263.3 L548.7 265.3 L549.2 267.5 L549.7 270.0 L550.3 272.7 L550.8 275.5 L551.4 278.3 L551.9 280.9 L552.3 283.2 L552.7 285.2 L553.1 286.8 L553.3 288.0 L553.5 289.1 L553.7 290.0 L553.9 290.8 L554.1 291.7 L554.4 292.7 L554.8 293.9 L555.3 295.2 L555.9 296.6 L556.5 297.9 L557.1 299.2 L557.7 300.7 L558.4 302.1 L559.0 303.7 L559.6 305.5 L560.2 307.4 L560.8 309.6 L561.5 312.0 L562.1 314.5 L562.7 317.0 L563.4 319.5 L564.0 321.7 L564.6 323.8 L565.2 325.7 L565.8 327.4 L566.3 329.1 L566.9 330.7 L567.4 332.1 L567.9 333.4 L568.4 334.6 L568.9 335.7 L569.4 336.6 L569.9 337.4 L570.4 338.1 L570.8 338.6 L571.3 339.0 L571.6 339.2 L571.7 339.4 L571.8 339.5 L574.8 336.5 L574.5 336.3 L574.2 336.0 L574.0 335.8 L573.8 335.6 L573.6 335.4 L573.3 335.1 L573.1 334.6 L572.7 333.9 L572.3 333.0 L571.8 331.9 L571.3 330.6 L570.8 329.2 L570.3 327.7 L569.7 326.1 L569.2 324.4 L568.6 322.6 L568.0 320.6 L567.4 318.4 L566.8 316.0 L566.2 313.5 L565.5 311.0 L564.9 308.5 L564.2 306.2 L563.6 304.1 L562.9 302.3 L562.3 300.5 L561.6 299.0 L560.9 297.5 L560.3 296.1 L559.7 294.9 L559.2 293.7 L558.8 292.5 L558.4 291.4 L558.2 290.6 L558.0 289.8 L557.8 289.1 L557.6 288.2 L557.4 287.2 L557.2 286.0 L556.9 284.4 L556.4 282.4 L556.0 280.1 L555.5 277.5 L554.9 274.7 L554.4 271.9 L553.9 269.2 L553.3 266.6 L552.9 264.3 L552.4 262.4 L551.9 260.6 L551.5 259.0 L551.1 257.5 L550.7 256.0 L550.3 254.5 L549.9 252.9 L549.6 251.1 L549.2 249.1 L548.9 246.8 L548.6 244.3 L548.3 241.8 L548.1 239.4 L547.8 237.0 L547.6 235.0 L547.4 233.2 L547.2 231.8 L547.0 230.7 L546.9 229.8 L546.7 229.0 L546.2 228.5 L545.6 228.1 L545.1 227.8 L544.5 227.5ZM571.20 338.00 a2.10 2.10 0 1 0 4.20 0 a2.10 2.10 0 1 0 -4.20 0Z"/>
<path fill="#000" d="M461.5 250.4 L462.2 250.9 L463.0 251.6 L464.1 252.4 L465.3 253.3 L466.7 254.2 L468.3 255.0 L470.0 255.8 L471.8 256.4 L473.7 257.0 L475.7 257.5 L478.0 258.0 L480.3 258.5 L482.6 259.0 L485.0 259.4 L487.3 259.7 L489.5 259.9 L491.7 260.1 L494.0 260.2 L496.3 260.1 L498.5 259.9 L500.6 259.7 L502.5 259.5 L504.1 259.3 L505.3 259.2 L505.3 258.8 L504.1 258.7 L502.5 258.6 L500.6 258.6 L498.5 258.5 L496.3 258.4 L494.0 258.3 L491.8 258.2 L489.6 258.1 L487.5 257.8 L485.3 257.5 L483.0 257.1 L480.7 256.6 L478.4 256.2 L476.2 255.7 L474.2 255.1 L472.3 254.6 L470.7 254.0 L469.1 253.3 L467.5 252.7 L466.1 252.0 L464.7 251.4 L463.5 250.8 L462.5 250.4 L461.6 250.1Z"/>
<path fill="#000" d="M521.1 255.7 L522.2 255.4 L523.6 255.0 L525.3 254.4 L527.1 253.7 L529.0 252.9 L530.8 252.0 L532.4 251.1 L533.8 250.3 L535.0 249.5 L536.2 248.5 L537.2 247.6 L538.1 246.6 L538.9 245.6 L539.5 244.7 L540.0 244.0 L540.4 243.4 L540.2 243.1 L539.6 243.5 L538.8 244.1 L538.0 244.7 L537.0 245.4 L536.0 246.2 L535.0 247.1 L533.9 247.9 L532.8 248.7 L531.5 249.5 L529.9 250.3 L528.1 251.2 L526.3 252.0 L524.6 253.0 L523.1 253.9 L521.9 254.7 L521.0 255.3Z"/>
<path fill="#000" d="M472.0 264.4 L473.3 264.8 L475.1 265.3 L477.1 265.9 L479.5 266.4 L481.9 266.9 L484.5 267.3 L487.1 267.6 L489.5 267.8 L492.0 268.0 L494.7 268.0 L497.5 268.0 L500.3 268.0 L502.9 267.8 L505.3 267.5 L507.3 267.3 L508.8 267.1 L508.8 266.7 L507.3 266.6 L505.3 266.4 L502.9 266.3 L500.3 266.2 L497.5 266.1 L494.7 266.1 L492.0 266.1 L489.6 266.0 L487.3 265.7 L484.8 265.4 L482.2 265.1 L479.7 264.7 L477.4 264.5 L475.2 264.3 L473.4 264.1 L472.1 264.1Z"/>
<path fill="#4a4a4a" d="M501.8 262.7 L502.9 262.7 L504.4 262.6 L506.2 262.5 L508.1 262.4 L510.2 262.1 L512.2 261.9 L514.1 261.6 L515.9 261.4 L517.6 261.2 L519.3 260.9 L521.1 260.7 L522.8 260.3 L524.3 260.0 L525.7 259.7 L526.9 259.4 L527.8 259.2 L527.8 258.8 L526.8 258.9 L525.6 258.9 L524.2 259.0 L522.6 259.2 L520.9 259.4 L519.1 259.6 L517.4 259.9 L515.7 260.1 L514.0 260.3 L512.0 260.6 L510.0 260.8 L508.0 261.1 L506.0 261.4 L504.3 261.8 L502.9 262.1 L501.8 262.3Z"/>
<path fill="#000" d="M533.4 260.1 L534.2 259.7 L535.2 259.2 L536.3 258.5 L537.4 257.5 L538.5 256.6 L539.4 255.6 L540.0 254.6 L540.4 253.9 L540.2 253.6 L539.4 253.9 L538.4 254.4 L537.3 255.2 L536.2 256.1 L535.1 257.1 L534.2 258.1 L533.6 259.1 L533.2 259.7Z"/>
<path fill="#4a4a4a" d="M515.9 275.7 L516.5 275.6 L517.4 275.5 L518.4 275.2 L519.5 274.9 L520.6 274.5 L521.6 274.0 L522.3 273.5 L522.9 273.2 L522.7 272.8 L522.1 272.9 L521.2 273.0 L520.2 273.3 L519.1 273.6 L518.0 274.0 L517.0 274.5 L516.3 275.0 L515.7 275.3Z"/>
<path fill="#000" d="M531.7 274.9 L532.7 274.4 L534.2 273.5 L535.8 272.4 L537.4 271.1 L539.0 269.7 L540.4 268.3 L541.5 267.1 L542.2 266.2 L541.9 265.8 L540.9 266.4 L539.4 267.2 L537.8 268.3 L536.2 269.6 L534.6 271.0 L533.2 272.4 L532.1 273.7 L531.4 274.6Z"/>
<path fill="#000" d="M477.3 282.7 L478.6 283.0 L480.4 283.4 L482.5 283.9 L484.9 284.3 L487.4 284.7 L489.9 285.0 L492.4 285.3 L494.7 285.4 L496.9 285.6 L498.9 285.8 L501.0 285.9 L503.1 286.0 L505.2 286.1 L507.5 286.0 L509.9 285.8 L512.5 285.4 L515.4 284.8 L518.8 284.0 L522.3 283.0 L525.9 281.8 L529.3 280.6 L532.4 279.4 L535.0 278.4 L536.9 277.7 L536.7 277.3 L534.8 277.8 L532.1 278.4 L528.9 279.3 L525.4 280.2 L521.8 281.2 L518.3 282.2 L515.0 283.0 L512.1 283.6 L509.7 283.9 L507.4 284.1 L505.2 284.2 L503.1 284.1 L501.1 284.0 L499.1 283.9 L497.0 283.7 L494.9 283.6 L492.6 283.4 L490.1 283.1 L487.6 282.9 L485.1 282.7 L482.7 282.5 L480.5 282.4 L478.7 282.3 L477.3 282.3Z"/>
<path fill="#4a4a4a" d="M529.9 292.4 L531.4 291.8 L533.6 290.9 L536.1 289.8 L538.8 288.5 L541.5 287.1 L544.0 285.7 L546.0 284.5 L547.4 283.7 L547.2 283.3 L545.7 283.9 L543.5 284.8 L541.0 286.0 L538.3 287.3 L535.6 288.7 L533.1 290.0 L531.1 291.2 L529.7 292.1Z"/>
<path fill="#000" d="M501.3 296.7 L502.1 296.9 L503.2 297.1 L504.5 297.4 L506.0 297.7 L507.6 297.9 L509.3 298.1 L511.0 298.1 L512.8 298.1 L514.7 298.1 L516.9 298.1 L519.2 298.0 L521.6 297.8 L523.8 297.6 L525.9 297.3 L527.6 296.9 L528.8 296.7 L528.8 296.3 L527.5 296.2 L525.8 296.1 L523.7 296.0 L521.5 296.0 L519.1 296.1 L516.8 296.2 L514.7 296.2 L512.8 296.2 L511.1 296.2 L509.4 296.2 L507.7 296.1 L506.1 296.1 L504.6 296.1 L503.3 296.2 L502.2 296.2 L501.3 296.3Z"/>
<path fill="#000" d="M476.7 299.7 L477.5 300.1 L478.4 300.6 L479.5 301.2 L480.8 301.9 L482.3 302.5 L484.0 303.1 L486.0 303.6 L488.2 303.8 L490.9 303.9 L494.1 303.9 L497.6 303.8 L501.3 303.7 L504.9 303.4 L508.1 303.0 L510.8 302.6 L512.8 302.3 L512.8 301.9 L510.8 301.8 L508.1 301.7 L504.8 301.6 L501.2 301.8 L497.6 301.9 L494.1 302.0 L490.9 302.0 L488.4 302.0 L486.3 301.7 L484.4 301.4 L482.8 301.0 L481.3 300.6 L479.9 300.2 L478.7 299.8 L477.7 299.5 L476.9 299.3Z"/>
<path fill="#000" d="M519.2 304.7 L520.4 304.5 L521.9 304.4 L523.8 304.1 L525.8 303.8 L527.9 303.3 L530.1 302.7 L532.2 302.1 L534.1 301.4 L536.1 300.6 L538.2 299.6 L540.4 298.5 L542.4 297.3 L544.4 296.1 L546.0 295.0 L547.4 294.0 L548.5 293.3 L548.3 292.9 L547.1 293.4 L545.5 294.0 L543.6 294.8 L541.6 295.8 L539.5 296.8 L537.4 297.9 L535.3 298.8 L533.5 299.6 L531.6 300.3 L529.5 300.9 L527.4 301.5 L525.4 302.1 L523.4 302.7 L521.7 303.3 L520.2 303.9 L519.2 304.3Z"/>
<path fill="#4a4a4a" d="M525.9 307.9 L527.7 307.6 L530.2 307.0 L533.3 306.1 L536.5 305.1 L539.7 304.1 L542.7 303.1 L545.2 302.2 L546.9 301.4 L546.7 301.1 L544.9 301.4 L542.4 302.0 L539.3 302.9 L536.1 303.9 L532.9 304.9 L529.9 305.9 L527.4 306.8 L525.7 307.6Z"/>
<path fill="#4a4a4a" d="M528.9 314.4 L529.9 314.3 L531.3 314.1 L532.9 313.7 L534.7 313.3 L536.5 312.7 L538.1 312.2 L539.4 311.6 L540.4 311.2 L540.2 310.8 L539.2 310.9 L537.8 311.2 L536.2 311.5 L534.4 312.0 L532.6 312.5 L531.0 313.1 L529.7 313.6 L528.7 314.1Z"/>
<path fill="#4a4a4a" d="M485.1 320.9 L486.3 320.9 L488.0 320.8 L490.0 320.7 L492.2 320.6 L494.6 320.4 L496.9 320.1 L499.2 319.9 L501.3 319.7 L503.5 319.6 L505.8 319.5 L508.1 319.4 L510.5 319.2 L512.7 319.0 L514.6 318.8 L516.3 318.6 L517.6 318.5 L517.5 318.1 L516.3 318.1 L514.6 318.0 L512.6 318.0 L510.4 318.0 L508.1 318.1 L505.7 318.2 L503.4 318.3 L501.3 318.5 L499.1 318.6 L496.8 318.8 L494.4 319.1 L492.1 319.4 L489.9 319.7 L487.9 320.0 L486.3 320.3 L485.0 320.6Z"/>
<path fill="#000" d="M480.2 321.7 L481.4 321.9 L482.9 322.3 L484.7 322.6 L486.7 323.0 L488.9 323.4 L491.3 323.7 L493.8 323.9 L496.3 324.1 L499.2 324.4 L502.4 324.6 L506.0 324.8 L509.6 325.0 L513.0 325.1 L516.2 325.1 L518.8 325.1 L520.8 325.0 L520.8 324.6 L518.9 324.3 L516.3 323.9 L513.1 323.5 L509.7 323.2 L506.1 322.9 L502.6 322.7 L499.3 322.5 L496.5 322.3 L494.0 322.0 L491.5 321.8 L489.1 321.6 L486.9 321.5 L484.8 321.4 L483.0 321.4 L481.4 321.3 L480.2 321.3Z"/>
<path fill="#4a4a4a" d="M540.4 324.2 L541.7 323.6 L543.5 322.8 L545.6 321.8 L547.9 320.5 L550.1 319.3 L552.1 318.0 L553.8 316.9 L554.9 316.1 L554.7 315.7 L553.4 316.3 L551.6 317.1 L549.5 318.1 L547.2 319.4 L545.0 320.6 L543.0 321.9 L541.3 323.0 L540.2 323.8Z"/>
<path fill="#000" d="M512.7 333.1 L513.9 333.3 L515.4 333.5 L517.3 333.8 L519.4 334.0 L521.7 334.2 L524.1 334.2 L526.5 334.1 L528.9 333.8 L531.5 333.4 L534.4 332.9 L537.5 332.2 L540.7 331.4 L543.6 330.5 L546.3 329.7 L548.5 328.9 L550.1 328.3 L550.0 327.9 L548.3 328.1 L546.0 328.5 L543.2 329.0 L540.2 329.6 L537.1 330.3 L534.1 331.0 L531.2 331.6 L528.7 332.0 L526.4 332.2 L524.0 332.3 L521.7 332.3 L519.4 332.4 L517.4 332.5 L515.5 332.5 L513.9 332.6 L512.7 332.7Z"/>
<path fill="#000" d="M537.1 335.6 L539.1 335.0 L541.7 334.0 L544.8 332.6 L548.1 330.9 L551.3 329.3 L554.3 327.7 L556.7 326.2 L558.3 325.0 L558.1 324.6 L556.2 325.2 L553.5 326.2 L550.5 327.6 L547.2 329.3 L543.9 330.9 L541.0 332.5 L538.6 334.0 L537.0 335.2Z"/>
<path fill="#000" d="M486.7 335.6 L487.8 336.1 L489.1 336.8 L490.8 337.6 L492.6 338.5 L494.7 339.2 L496.8 339.9 L499.0 340.3 L501.2 340.6 L503.5 340.8 L506.0 340.7 L508.6 340.6 L511.2 340.4 L513.7 340.0 L516.0 339.5 L517.8 339.0 L519.2 338.7 L519.2 338.3 L517.8 338.2 L515.8 338.1 L513.6 338.1 L511.1 338.2 L508.5 338.3 L505.9 338.4 L503.5 338.5 L501.4 338.4 L499.4 338.1 L497.4 337.6 L495.3 337.1 L493.2 336.5 L491.3 336.1 L489.5 335.7 L488.0 335.4 L486.9 335.2Z"/>
<path fill="#4a4a4a" d="M499.7 340.4 L500.7 340.6 L501.9 340.8 L503.4 341.1 L505.1 341.3 L507.0 341.5 L508.9 341.6 L510.8 341.7 L512.7 341.8 L514.7 341.7 L516.9 341.6 L519.3 341.5 L521.6 341.4 L523.8 341.1 L525.9 340.9 L527.6 340.6 L528.8 340.4 L528.8 340.1 L527.5 340.0 L525.8 340.0 L523.8 340.0 L521.5 340.1 L519.2 340.2 L516.9 340.3 L514.7 340.4 L512.7 340.5 L510.9 340.4 L509.0 340.3 L507.1 340.2 L505.2 340.2 L503.5 340.1 L502.0 340.1 L500.7 340.0 L499.7 340.1Z"/>
<path fill="#4a4a4a" d="M541.8 342.9 L543.8 342.8 L546.5 342.6 L549.8 342.2 L553.3 341.7 L556.9 341.2 L560.1 340.7 L562.8 340.2 L564.7 339.7 L564.7 339.3 L562.7 339.4 L560.0 339.6 L556.7 340.0 L553.2 340.5 L549.6 341.0 L546.4 341.5 L543.7 342.0 L541.8 342.5Z"/>
<path fill="#4a4a4a" d="M510.8 350.4 L511.9 350.6 L513.4 350.9 L515.1 351.3 L517.1 351.7 L519.2 352.0 L521.4 352.3 L523.7 352.4 L525.8 352.4 L528.0 352.2 L530.1 351.9 L532.3 351.6 L534.6 351.2 L536.9 350.7 L539.2 350.1 L541.6 349.4 L544.0 348.6 L546.7 347.7 L549.6 346.5 L552.6 345.2 L555.7 343.8 L558.5 342.4 L561.1 341.1 L563.3 340.0 L564.9 339.2 L564.7 338.8 L563.0 339.5 L560.8 340.4 L558.1 341.5 L555.2 342.7 L552.1 344.0 L549.1 345.3 L546.2 346.5 L543.6 347.4 L541.2 348.1 L538.8 348.8 L536.5 349.4 L534.3 349.9 L532.1 350.3 L529.9 350.7 L527.8 350.9 L525.8 351.1 L523.7 351.2 L521.5 351.1 L519.4 351.0 L517.2 350.8 L515.3 350.6 L513.5 350.3 L512.0 350.2 L510.8 350.1Z"/>
<path fill="#4a4a4a" d="M491.2 354.2 L492.2 354.5 L493.4 355.0 L494.9 355.6 L496.6 356.3 L498.4 356.9 L500.4 357.5 L502.5 358.1 L504.7 358.5 L506.9 358.8 L509.3 359.2 L511.8 359.4 L514.4 359.7 L517.1 359.8 L520.0 359.8 L522.9 359.7 L525.9 359.3 L529.3 358.6 L533.0 357.6 L536.9 356.5 L540.8 355.1 L544.6 353.7 L548.0 352.4 L550.8 351.2 L552.9 350.4 L552.7 350.1 L550.6 350.7 L547.7 351.5 L544.2 352.6 L540.4 353.7 L536.4 354.9 L532.5 356.1 L528.9 357.1 L525.7 357.7 L522.8 358.1 L519.9 358.2 L517.2 358.2 L514.5 358.1 L511.9 357.9 L509.5 357.6 L507.1 357.3 L504.9 357.0 L502.8 356.7 L500.7 356.3 L498.7 355.9 L496.9 355.4 L495.2 354.9 L493.7 354.4 L492.4 354.1 L491.4 353.8Z"/>
<path fill="#000" d="M697.7 164.5 L698.0 163.9 L698.4 163.2 L698.8 162.3 L699.2 161.2 L699.5 160.1 L699.7 159.0 L699.8 157.9 L699.8 156.9 L699.8 156.1 L699.7 155.3 L699.7 154.5 L699.6 153.8 L699.5 153.0 L699.3 152.3 L699.2 151.6 L699.0 150.9 L698.8 150.1 L698.5 149.3 L698.2 148.5 L697.9 147.7 L697.6 146.8 L697.1 146.0 L696.7 145.2 L696.1 144.4 L695.5 143.8 L694.9 143.3 L694.3 142.8 L693.6 142.5 L692.8 142.1 L692.0 141.9 L691.2 141.7 L690.3 141.5 L689.2 141.4 L688.0 141.3 L686.8 141.3 L685.4 141.3 L684.1 141.3 L682.9 141.3 L681.7 141.4 L680.7 141.5 L679.9 141.6 L679.2 141.8 L678.5 142.0 L677.9 142.3 L677.3 142.6 L676.9 143.0 L676.5 143.3 L676.1 143.6 L675.7 144.0 L675.3 144.4 L674.8 144.9 L674.3 145.4 L673.9 146.0 L673.5 146.6 L673.1 147.3 L672.8 148.1 L672.6 148.9 L672.4 149.8 L672.3 150.6 L672.2 151.5 L672.1 152.4 L672.1 153.3 L672.1 154.2 L672.1 155.1 L672.2 156.0 L672.3 157.0 L672.4 158.0 L672.6 158.9 L672.8 159.9 L673.0 160.8 L673.2 161.7 L673.5 162.7 L673.9 163.6 L674.4 164.5 L674.8 165.1 L675.2 165.7 L675.5 166.2 L675.7 166.6 L675.8 167.0 L675.9 167.6 L675.9 168.4 L675.8 169.4 L675.6 170.5 L675.4 171.7 L675.1 173.0 L674.8 174.4 L674.4 175.9 L674.0 177.4 L673.5 179.1 L672.9 180.9 L672.3 182.8 L671.6 184.8 L670.9 186.8 L670.3 188.8 L669.6 190.6 L669.0 192.3 L668.5 193.6 L668.0 194.8 L667.5 195.8 L666.9 196.9 L666.4 198.1 L665.9 199.5 L665.4 201.0 L664.9 202.9 L664.6 205.1 L664.2 207.5 L663.9 210.1 L663.6 212.9 L663.4 215.7 L663.2 218.4 L663.0 220.9 L662.9 223.2 L662.8 225.3 L662.8 227.2 L662.8 229.0 L662.9 230.7 L663.0 232.3 L663.1 233.9 L663.4 235.5 L663.6 237.1 L664.0 238.6 L664.4 240.1 L664.8 241.6 L665.3 243.0 L665.8 244.4 L666.5 245.7 L667.1 247.1 L667.9 248.4 L668.8 249.8 L669.7 251.2 L670.8 252.5 L671.9 253.9 L673.0 255.2 L674.1 256.3 L675.2 257.4 L676.1 258.4 L677.1 259.2 L678.1 260.0 L679.0 260.5 L679.9 261.0 L680.7 261.5 L681.5 261.8 L682.2 262.2 L683.0 262.6 L683.9 262.9 L684.9 263.2 L686.0 263.4 L687.1 263.6 L688.1 263.6 L689.0 263.6 L689.8 263.7 L690.4 263.7 L690.6 263.3 L690.2 262.9 L689.6 262.3 L689.0 261.6 L688.2 260.9 L687.5 260.2 L686.6 259.5 L685.8 258.9 L685.0 258.4 L684.2 258.0 L683.4 257.7 L682.7 257.3 L682.0 257.0 L681.4 256.6 L680.7 256.2 L680.0 255.7 L679.3 255.0 L678.3 254.2 L677.3 253.2 L676.3 252.1 L675.2 251.0 L674.2 249.8 L673.2 248.6 L672.3 247.4 L671.5 246.2 L670.8 245.0 L670.2 243.9 L669.7 242.7 L669.2 241.5 L668.8 240.3 L668.4 239.0 L668.1 237.7 L667.8 236.3 L667.5 234.9 L667.3 233.5 L667.2 232.0 L667.1 230.5 L667.0 228.9 L667.0 227.2 L667.0 225.4 L667.1 223.4 L667.2 221.2 L667.4 218.7 L667.6 216.0 L667.8 213.3 L668.1 210.6 L668.4 208.0 L668.7 205.7 L669.1 203.7 L669.4 202.1 L669.8 200.8 L670.2 199.7 L670.7 198.7 L671.2 197.7 L671.8 196.6 L672.4 195.3 L673.0 193.7 L673.6 192.0 L674.2 190.2 L674.9 188.2 L675.6 186.2 L676.3 184.2 L676.9 182.2 L677.5 180.3 L678.0 178.6 L678.5 177.0 L678.9 175.5 L679.2 174.0 L679.5 172.6 L679.8 171.2 L680.0 169.9 L680.1 168.7 L680.1 167.4 L680.0 166.2 L679.6 165.1 L679.2 164.1 L678.7 163.4 L678.3 162.8 L677.9 162.3 L677.7 161.8 L677.5 161.3 L677.3 160.6 L677.1 159.8 L676.9 159.0 L676.7 158.2 L676.6 157.3 L676.4 156.5 L676.4 155.6 L676.3 154.9 L676.3 154.1 L676.3 153.4 L676.3 152.6 L676.3 151.9 L676.4 151.2 L676.5 150.5 L676.6 150.0 L676.8 149.5 L676.9 149.1 L677.1 148.7 L677.4 148.4 L677.6 148.0 L677.9 147.7 L678.2 147.4 L678.5 147.1 L678.9 146.8 L679.2 146.5 L679.5 146.3 L679.7 146.1 L679.8 146.0 L680.0 146.0 L680.3 145.9 L680.7 145.8 L681.3 145.7 L682.1 145.6 L683.1 145.5 L684.2 145.5 L685.5 145.5 L686.7 145.5 L687.8 145.5 L688.9 145.6 L689.7 145.7 L690.4 145.8 L690.9 145.9 L691.4 146.1 L691.7 146.2 L692.0 146.4 L692.3 146.6 L692.6 146.9 L692.9 147.2 L693.2 147.5 L693.5 148.0 L693.7 148.6 L694.0 149.2 L694.3 149.9 L694.5 150.7 L694.8 151.4 L695.0 152.1 L695.2 152.8 L695.4 153.4 L695.6 153.9 L695.8 154.5 L695.9 155.1 L696.0 155.7 L696.1 156.3 L696.2 157.1 L696.3 157.9 L696.3 158.8 L696.3 159.9 L696.4 161.0 L696.6 162.0 L696.9 163.0 L697.1 163.9 L697.3 164.5Z"/>
<path fill="#000" d="M700.9 163.7 L701.5 164.3 L702.3 165.2 L703.2 166.2 L704.3 167.3 L705.5 168.2 L706.7 169.0 L707.8 169.8 L708.8 170.5 L709.5 171.2 L710.2 172.0 L710.9 172.8 L711.6 173.7 L712.3 174.6 L713.0 175.6 L713.7 176.5 L714.5 177.4 L715.3 178.2 L716.0 179.0 L716.8 179.7 L717.5 180.3 L718.2 181.0 L718.9 181.6 L719.6 182.3 L720.4 183.1 L721.3 184.0 L722.2 184.8 L723.1 185.6 L723.9 186.5 L724.8 187.4 L725.7 188.4 L726.7 189.7 L727.8 191.2 L728.9 193.1 L730.2 195.4 L731.5 197.9 L732.9 200.5 L734.3 203.2 L735.7 206.0 L737.0 208.6 L738.2 211.0 L739.4 213.4 L740.6 215.7 L741.7 217.9 L742.8 220.1 L743.8 222.2 L744.6 224.2 L745.4 226.2 L746.0 228.0 L746.5 229.8 L746.8 231.5 L747.1 233.1 L747.3 234.6 L747.3 236.1 L747.3 237.5 L747.2 238.9 L747.0 240.3 L746.7 241.6 L746.4 242.8 L745.9 244.1 L745.4 245.2 L744.7 246.4 L744.0 247.5 L743.3 248.6 L742.4 249.6 L741.5 250.6 L740.3 251.6 L738.9 252.7 L737.6 254.0 L736.3 255.3 L735.2 256.6 L734.3 257.7 L733.6 258.5 L733.8 258.9 L734.8 258.6 L736.3 258.3 L737.9 257.9 L739.7 257.4 L741.6 256.6 L743.3 255.5 L744.8 254.3 L746.2 253.0 L747.3 251.7 L748.2 250.4 L749.1 249.0 L749.9 247.5 L750.6 246.0 L751.2 244.4 L751.6 242.8 L752.0 241.1 L752.2 239.4 L752.3 237.7 L752.3 236.0 L752.2 234.2 L752.0 232.4 L751.6 230.5 L751.2 228.6 L750.6 226.6 L749.9 224.5 L749.0 222.4 L748.1 220.2 L747.0 218.0 L745.9 215.8 L744.7 213.5 L743.5 211.3 L742.4 209.0 L741.1 206.5 L739.8 203.9 L738.4 201.1 L737.0 198.4 L735.6 195.7 L734.2 193.1 L732.9 190.8 L731.6 188.8 L730.5 187.0 L729.3 185.5 L728.2 184.3 L727.2 183.2 L726.2 182.3 L725.3 181.4 L724.4 180.7 L723.6 179.9 L722.7 179.0 L721.9 178.3 L721.1 177.6 L720.3 177.0 L719.6 176.4 L718.9 175.8 L718.2 175.2 L717.5 174.6 L716.8 173.9 L716.2 173.1 L715.5 172.2 L714.8 171.3 L714.0 170.3 L713.2 169.4 L712.3 168.4 L711.2 167.5 L710.1 166.6 L708.8 165.8 L707.4 165.0 L706.0 164.4 L704.5 164.0 L703.1 163.7 L702.0 163.5 L701.1 163.3Z"/>
<path fill="#000" d="M670.6 258.5 L669.6 259.9 L669.1 261.8 L669.3 263.8 L669.6 266.1 L669.9 268.5 L670.3 270.9 L670.6 273.2 L670.9 275.4 L671.3 277.3 L671.7 279.1 L672.1 280.9 L672.5 282.6 L672.9 284.3 L673.3 286.2 L673.6 288.1 L673.9 290.3 L674.2 292.6 L674.4 295.2 L674.5 298.0 L674.7 300.9 L674.9 303.8 L675.0 306.8 L675.2 309.8 L675.4 312.7 L675.6 315.5 L675.9 318.3 L676.2 321.1 L676.4 324.0 L676.7 326.8 L677.0 329.6 L677.3 332.4 L677.7 335.2 L678.0 338.2 L678.4 341.2 L678.8 344.2 L679.3 347.2 L679.7 350.2 L680.1 352.9 L680.4 355.5 L680.7 357.7 L680.9 359.7 L681.0 361.5 L681.1 363.2 L681.2 364.6 L681.3 365.9 L681.3 367.1 L681.4 368.1 L681.4 368.9 L685.6 368.6 L685.6 367.9 L685.5 366.9 L685.5 365.8 L685.4 364.4 L685.3 362.9 L685.2 361.2 L685.0 359.3 L684.8 357.3 L684.6 355.0 L684.2 352.4 L683.8 349.6 L683.4 346.7 L683.0 343.6 L682.6 340.6 L682.2 337.6 L681.8 334.8 L681.5 332.0 L681.2 329.1 L680.9 326.3 L680.6 323.5 L680.3 320.7 L680.1 317.9 L679.8 315.1 L679.6 312.3 L679.4 309.5 L679.2 306.6 L679.0 303.6 L678.9 300.7 L678.7 297.8 L678.6 294.9 L678.3 292.3 L678.1 289.7 L677.8 287.5 L677.4 285.4 L677.0 283.4 L676.6 281.6 L676.2 279.9 L675.8 278.2 L675.4 276.5 L675.1 274.6 L674.7 272.6 L674.4 270.3 L674.1 267.9 L673.8 265.5 L673.5 263.3 L673.2 261.2 L672.2 259.6 L670.9 258.5ZM681.40 368.75 a2.10 2.10 0 1 0 4.20 0 a2.10 2.10 0 1 0 -4.20 0Z"/>
<path fill="#000" d="M747.1 256.3 L745.9 258.0 L745.9 260.1 L746.4 262.5 L746.9 265.1 L747.4 267.8 L748.0 270.5 L748.5 273.1 L748.9 275.4 L749.4 277.5 L749.8 279.4 L750.2 281.2 L750.6 282.9 L751.0 284.6 L751.3 286.4 L751.6 288.3 L751.9 290.3 L752.1 292.4 L752.3 294.7 L752.4 297.0 L752.6 299.5 L752.7 302.0 L752.9 304.6 L753.1 307.2 L753.4 309.8 L753.8 312.4 L754.4 315.2 L754.9 317.9 L755.5 320.7 L756.1 323.4 L756.8 326.1 L757.4 328.6 L758.0 331.0 L758.6 333.4 L759.2 335.7 L759.9 338.1 L760.5 340.3 L761.1 342.3 L761.7 344.2 L762.1 345.7 L762.5 346.8 L766.5 345.7 L766.2 344.5 L765.7 342.9 L765.2 341.1 L764.5 339.1 L763.9 336.9 L763.3 334.6 L762.6 332.3 L762.0 330.0 L761.5 327.6 L760.8 325.1 L760.2 322.5 L759.6 319.8 L759.0 317.1 L758.5 314.4 L758.0 311.7 L757.6 309.2 L757.3 306.7 L757.0 304.3 L756.9 301.8 L756.8 299.3 L756.6 296.8 L756.5 294.4 L756.3 292.0 L756.1 289.7 L755.8 287.6 L755.4 285.6 L755.1 283.8 L754.7 282.0 L754.3 280.2 L753.9 278.4 L753.5 276.6 L753.1 274.6 L752.6 272.3 L752.1 269.7 L751.5 267.0 L751.0 264.3 L750.5 261.7 L750.0 259.3 L749.1 257.4 L747.4 256.2ZM762.40 346.25 a2.10 2.10 0 1 0 4.20 0 a2.10 2.10 0 1 0 -4.20 0Z"/>
<path fill="#000" d="M673.6 208.8 L673.9 209.3 L674.2 209.9 L674.7 210.6 L675.2 211.4 L675.9 212.2 L676.7 212.9 L677.6 213.6 L678.6 214.1 L679.7 214.6 L681.0 215.1 L682.3 215.5 L683.7 215.8 L685.1 216.1 L686.4 216.1 L687.5 216.2 L688.2 216.2 L688.4 215.8 L687.6 215.4 L686.7 215.0 L685.5 214.5 L684.2 214.0 L682.9 213.7 L681.6 213.3 L680.4 212.9 L679.4 212.5 L678.6 212.0 L677.9 211.4 L677.1 210.8 L676.3 210.3 L675.6 209.7 L674.9 209.2 L674.3 208.8 L673.8 208.6Z"/>
<path fill="#999" d="M680.4 157.2 L680.9 157.5 L681.6 157.9 L682.4 158.3 L683.3 158.6 L684.2 158.9 L685.1 159.1 L685.9 159.1 L686.4 159.2 L686.6 158.8 L686.1 158.5 L685.4 158.1 L684.6 157.7 L683.7 157.4 L682.8 157.1 L681.9 156.9 L681.1 156.9 L680.6 156.8Z"/>
<path fill="#999" d="M681.0 162.2 L681.4 162.4 L682.1 162.8 L682.9 163.1 L683.9 163.3 L684.8 163.6 L685.7 163.7 L686.4 163.7 L687.0 163.7 L687.0 163.3 L686.6 163.1 L685.9 162.7 L685.1 162.4 L684.1 162.2 L683.2 161.9 L682.3 161.8 L681.6 161.8 L681.0 161.8Z"/>
<path fill="#4a4a4a" d="M732.5 240.8 L733.3 239.9 L734.5 238.6 L735.8 236.9 L737.2 235.1 L738.5 233.2 L739.7 231.4 L740.5 229.9 L741.2 228.8 L740.8 228.6 L740.0 229.5 L738.8 230.8 L737.5 232.5 L736.1 234.3 L734.8 236.2 L733.6 238.0 L732.8 239.5 L732.1 240.6Z"/>
<path fill="#4a4a4a" d="M672.2 246.2 L672.9 246.6 L673.8 247.3 L674.9 248.0 L676.1 248.8 L677.5 249.6 L678.9 250.2 L680.2 250.8 L681.5 251.3 L682.8 251.7 L684.1 251.9 L685.5 252.1 L686.9 252.2 L688.2 252.3 L689.3 252.2 L690.3 252.2 L691.0 252.2 L691.0 251.8 L690.3 251.6 L689.4 251.5 L688.2 251.3 L687.0 251.1 L685.7 250.9 L684.4 250.7 L683.1 250.4 L681.9 250.1 L680.7 249.6 L679.4 249.1 L678.1 248.4 L676.7 247.7 L675.4 247.1 L674.2 246.6 L673.2 246.1 L672.4 245.8Z"/>
<path fill="#000" d="M689.7 258.2 L691.1 258.6 L692.9 259.0 L695.2 259.5 L697.7 259.8 L700.4 260.1 L703.1 260.3 L705.8 260.3 L708.4 260.2 L710.9 260.0 L713.7 259.5 L716.6 258.9 L719.4 258.3 L722.0 257.6 L724.4 256.8 L726.3 256.1 L727.7 255.5 L727.7 255.1 L726.1 255.2 L724.0 255.5 L721.6 255.9 L718.9 256.5 L716.2 257.1 L713.4 257.6 L710.7 258.1 L708.2 258.4 L705.8 258.4 L703.2 258.4 L700.5 258.2 L697.9 258.0 L695.4 257.7 L693.1 257.7 L691.2 257.7 L689.7 257.8Z"/>
<path fill="#4a4a4a" d="M725.8 252.9 L726.9 252.2 L728.5 251.3 L730.2 250.0 L732.1 248.5 L734.0 247.1 L735.6 245.7 L736.9 244.4 L737.8 243.5 L737.6 243.1 L736.5 243.8 L734.9 244.7 L733.2 246.0 L731.3 247.5 L729.4 248.9 L727.8 250.3 L726.5 251.6 L725.6 252.5Z"/>
<path fill="#000" d="M715.0 266.2 L715.9 266.2 L717.0 266.3 L718.3 266.1 L719.7 265.8 L721.1 265.4 L722.4 264.9 L723.4 264.4 L724.0 263.9 L724.0 263.6 L723.1 263.5 L722.0 263.5 L720.7 263.6 L719.3 264.0 L717.9 264.3 L716.6 264.8 L715.6 265.4 L715.0 265.8Z"/>
<path fill="#000" d="M708.3 275.9 L709.3 275.9 L710.7 275.8 L712.3 275.7 L714.1 275.4 L715.9 275.1 L717.8 274.6 L719.6 274.2 L721.3 273.7 L723.0 273.1 L724.7 272.3 L726.5 271.6 L728.2 270.7 L729.7 269.8 L731.1 269.0 L732.2 268.2 L733.1 267.7 L732.9 267.3 L731.9 267.6 L730.6 268.0 L729.1 268.5 L727.4 269.1 L725.7 269.8 L724.0 270.6 L722.3 271.3 L720.7 271.8 L719.1 272.3 L717.3 272.8 L715.5 273.2 L713.7 273.7 L712.0 274.2 L710.5 274.7 L709.2 275.2 L708.2 275.6Z"/>
<path fill="#4a4a4a" d="M730.1 274.4 L731.3 273.9 L733.1 273.1 L735.0 272.0 L737.1 270.7 L739.2 269.4 L741.1 268.2 L742.6 267.0 L743.6 266.2 L743.4 265.8 L742.2 266.4 L740.4 267.2 L738.5 268.3 L736.4 269.6 L734.3 270.8 L732.4 272.1 L730.9 273.2 L729.9 274.1Z"/>
<path fill="#000" d="M679.6 278.2 L680.2 278.6 L680.8 279.2 L681.5 280.0 L682.5 280.8 L683.5 281.6 L684.8 282.4 L686.2 283.0 L687.8 283.4 L689.5 283.7 L691.5 283.9 L693.6 284.1 L695.8 284.2 L698.0 284.2 L700.3 284.3 L702.5 284.2 L704.5 284.2 L706.6 284.1 L708.8 283.9 L711.0 283.7 L713.1 283.3 L715.1 282.9 L716.9 282.5 L718.4 282.2 L719.5 281.9 L719.5 281.6 L718.3 281.6 L716.8 281.6 L715.0 281.7 L712.9 281.8 L710.8 281.9 L708.6 282.1 L706.5 282.2 L704.5 282.3 L702.4 282.3 L700.3 282.4 L698.1 282.3 L695.9 282.3 L693.7 282.2 L691.7 282.1 L689.8 281.8 L688.2 281.6 L686.8 281.2 L685.5 280.7 L684.3 280.2 L683.2 279.6 L682.2 279.1 L681.3 278.6 L680.5 278.1 L679.9 277.8Z"/>
<path fill="#4a4a4a" d="M706.0 293.2 L707.5 293.1 L709.5 293.0 L711.8 292.6 L714.4 292.1 L716.9 291.7 L719.3 291.2 L721.2 290.6 L722.5 290.2 L722.5 289.8 L721.0 289.9 L719.0 290.0 L716.7 290.4 L714.1 290.9 L711.6 291.3 L709.2 291.8 L707.3 292.4 L706.0 292.8Z"/>
<path fill="#4a4a4a" d="M718.1 297.7 L719.3 297.3 L720.9 296.9 L722.8 296.3 L724.9 295.6 L727.0 294.9 L729.2 294.1 L731.3 293.3 L733.2 292.6 L735.1 291.9 L737.0 291.2 L739.0 290.5 L740.9 289.7 L742.7 289.0 L744.2 288.3 L745.6 287.6 L746.6 287.2 L746.4 286.8 L745.4 287.1 L744.0 287.5 L742.3 288.0 L740.5 288.6 L738.5 289.3 L736.6 290.0 L734.6 290.7 L732.8 291.4 L730.9 292.1 L728.8 292.9 L726.6 293.7 L724.4 294.5 L722.4 295.3 L720.6 296.1 L719.1 296.8 L717.9 297.3Z"/>
<path fill="#000" d="M712.0 305.2 L713.4 305.3 L715.3 305.6 L717.5 305.8 L720.0 305.9 L722.6 306.0 L725.3 305.8 L727.8 305.6 L730.2 305.2 L732.5 304.6 L734.9 303.7 L737.4 302.7 L739.7 301.6 L741.9 300.5 L743.8 299.3 L745.4 298.4 L746.6 297.7 L746.4 297.3 L745.1 297.7 L743.3 298.4 L741.3 299.1 L739.0 300.0 L736.7 301.0 L734.3 301.9 L732.0 302.7 L729.8 303.3 L727.6 303.7 L725.1 303.9 L722.5 304.1 L720.0 304.2 L717.5 304.3 L715.3 304.5 L713.4 304.6 L712.0 304.8Z"/>
<path fill="#000" d="M687.2 305.2 L687.7 305.6 L688.4 306.1 L689.3 306.8 L690.3 307.5 L691.4 308.2 L692.6 308.8 L693.9 309.3 L695.3 309.7 L696.7 309.9 L698.1 310.1 L699.6 310.2 L701.1 310.3 L702.7 310.4 L704.3 310.4 L705.9 310.4 L707.5 310.4 L709.2 310.5 L711.1 310.5 L713.0 310.5 L715.0 310.3 L716.9 310.2 L718.5 310.0 L720.0 309.8 L721.0 309.7 L721.0 309.3 L719.9 309.2 L718.5 309.0 L716.9 308.9 L715.0 308.8 L713.0 308.7 L711.1 308.6 L709.2 308.6 L707.5 308.6 L705.9 308.5 L704.3 308.5 L702.7 308.5 L701.2 308.4 L699.7 308.3 L698.3 308.2 L697.0 308.1 L695.7 307.8 L694.5 307.5 L693.3 307.1 L692.1 306.6 L691.0 306.1 L689.9 305.7 L688.9 305.3 L688.0 305.0 L687.3 304.8Z"/>
<path fill="#000" d="M683.5 317.2 L684.3 317.5 L685.5 317.9 L686.8 318.3 L688.3 318.8 L690.0 319.3 L691.8 319.7 L693.6 320.0 L695.4 320.2 L697.2 320.3 L699.0 320.3 L700.9 320.4 L702.8 320.3 L704.9 320.2 L707.1 320.1 L709.5 319.8 L712.2 319.4 L715.2 318.9 L718.8 318.2 L722.8 317.3 L726.7 316.3 L730.6 315.3 L734.0 314.2 L736.9 313.3 L739.0 312.7 L739.0 312.3 L736.8 312.7 L733.8 313.2 L730.2 313.8 L726.3 314.6 L722.3 315.4 L718.4 316.3 L714.9 317.0 L711.8 317.6 L709.3 317.9 L706.9 318.2 L704.8 318.3 L702.8 318.4 L700.9 318.5 L699.1 318.4 L697.3 318.4 L695.6 318.3 L693.8 318.2 L692.0 318.0 L690.3 317.7 L688.6 317.5 L687.1 317.3 L685.6 317.1 L684.5 316.9 L683.5 316.8Z"/>
<path fill="#000" d="M716.5 323.2 L717.3 323.4 L718.3 323.8 L719.6 324.1 L721.0 324.5 L722.5 324.7 L724.1 324.8 L725.7 324.8 L727.1 324.7 L728.6 324.4 L730.2 323.9 L731.7 323.4 L733.2 322.8 L734.6 322.0 L735.8 321.3 L736.8 320.6 L737.6 320.2 L737.4 319.8 L736.6 320.0 L735.4 320.3 L734.0 320.6 L732.6 321.1 L731.1 321.6 L729.6 322.1 L728.2 322.5 L726.9 322.8 L725.6 322.9 L724.2 322.9 L722.7 322.8 L721.2 322.7 L719.8 322.7 L718.5 322.7 L717.4 322.7 L716.5 322.8Z"/>
<path fill="#4a4a4a" d="M709.0 337.4 L710.4 337.4 L712.3 337.5 L714.5 337.5 L716.9 337.4 L719.5 337.3 L722.1 337.1 L724.7 336.8 L727.1 336.4 L729.5 335.9 L732.1 335.2 L734.7 334.4 L737.3 333.6 L739.7 332.7 L741.9 331.9 L743.7 331.2 L745.1 330.7 L744.9 330.3 L743.5 330.7 L741.6 331.1 L739.4 331.7 L736.9 332.4 L734.4 333.2 L731.8 334.0 L729.2 334.6 L726.9 335.1 L724.5 335.5 L722.0 335.8 L719.4 336.0 L716.8 336.2 L714.4 336.4 L712.2 336.7 L710.4 336.9 L709.0 337.1Z"/>
<path fill="#4a4a4a" d="M736.1 337.4 L737.4 337.2 L739.2 336.9 L741.4 336.3 L743.7 335.6 L746.0 334.9 L748.1 334.2 L749.9 333.5 L751.1 332.9 L750.9 332.6 L749.6 332.8 L747.8 333.1 L745.6 333.7 L743.3 334.4 L741.0 335.1 L738.9 335.8 L737.1 336.5 L735.9 337.1Z"/>
<path fill="#000" d="M687.2 345.7 L688.1 346.0 L689.3 346.5 L690.7 347.1 L692.3 347.7 L694.1 348.3 L696.0 348.8 L697.9 349.2 L699.9 349.4 L701.8 349.6 L703.8 349.7 L705.8 349.7 L707.9 349.7 L710.1 349.6 L712.5 349.4 L715.2 349.1 L718.2 348.7 L721.7 348.0 L725.9 347.1 L730.4 346.0 L735.1 344.8 L739.6 343.6 L743.7 342.3 L747.1 341.2 L749.5 340.4 L749.5 340.1 L746.9 340.5 L743.4 341.2 L739.2 342.1 L734.7 343.1 L730.0 344.2 L725.5 345.2 L721.3 346.2 L717.8 346.8 L714.9 347.3 L712.3 347.6 L710.0 347.7 L707.8 347.8 L705.8 347.8 L703.9 347.8 L702.0 347.7 L700.1 347.6 L698.2 347.4 L696.3 347.1 L694.5 346.8 L692.7 346.4 L691.0 346.1 L689.5 345.7 L688.3 345.5 L687.3 345.3Z"/>
<path fill="#4a4a4a" d="M733.1 362.9 L734.4 362.5 L736.3 361.9 L738.5 361.0 L740.8 360.0 L743.1 358.9 L745.2 357.9 L746.9 356.9 L748.1 356.2 L747.9 355.8 L746.6 356.2 L744.7 356.8 L742.5 357.7 L740.2 358.8 L737.9 359.8 L735.8 360.8 L734.1 361.8 L732.9 362.6Z"/>
<path fill="#4a4a4a" d="M706.0 366.7 L707.2 367.0 L708.9 367.4 L710.8 367.8 L713.0 368.3 L715.4 368.6 L717.8 368.8 L720.3 368.9 L722.6 368.8 L724.9 368.5 L727.5 368.0 L730.1 367.3 L732.7 366.6 L735.2 365.7 L737.4 364.9 L739.2 364.2 L740.6 363.7 L740.4 363.3 L739.0 363.6 L737.1 364.0 L734.8 364.5 L732.3 365.1 L729.7 365.8 L727.1 366.4 L724.7 366.9 L722.4 367.2 L720.3 367.3 L717.9 367.2 L715.6 367.0 L713.2 366.8 L711.0 366.6 L709.0 366.5 L707.3 366.3 L706.0 366.3Z"/>
</svg>
</body></html>
